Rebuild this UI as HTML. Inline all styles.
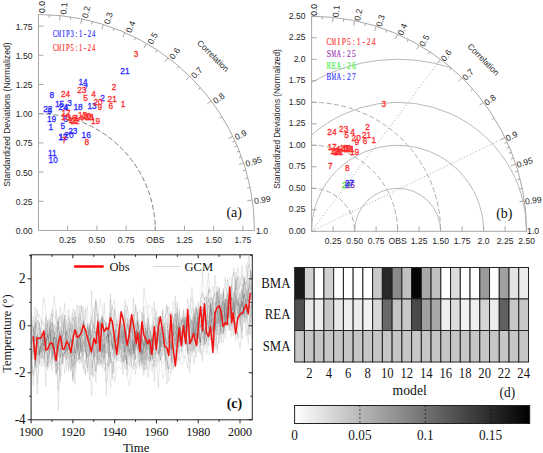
<!DOCTYPE html><html><head><meta charset="utf-8"><style>html,body{margin:0;padding:0;background:#fff;}svg{display:block}</style></head><body><svg width="543" height="453" viewBox="0 0 543 453" font-family="'Liberation Sans', sans-serif">
<rect width="543" height="453" fill="#fff"/>
<g>
<path d="M38.5 113.7 A116.8 116.8 0 0 1 155.3 230.5" fill="none" stroke="#808080" stroke-width="1" stroke-dasharray="5,2.5"/>
<line x1="38.5" y1="230.5" x2="38.5" y2="14.5" stroke="#a8a8a8" stroke-width="1"/>
<line x1="38.5" y1="230.5" x2="254.5" y2="230.5" stroke="#a8a8a8" stroke-width="1"/>
<path d="M38.5 14.5 A216 216 0 0 1 254.5 230.5" fill="none" stroke="#a8a8a8" stroke-width="1"/>
<line x1="38.5" y1="230.5" x2="43.5" y2="230.5" stroke="#a8a8a8" stroke-width="1"/>
<text x="32.5" y="233.9" text-anchor="end" font-size="8.6" fill="#262626">0.00</text>
<line x1="38.5" y1="201.3" x2="43.5" y2="201.3" stroke="#a8a8a8" stroke-width="1"/>
<text x="32.5" y="204.7" text-anchor="end" font-size="8.6" fill="#262626">0.25</text>
<line x1="38.5" y1="172.1" x2="43.5" y2="172.1" stroke="#a8a8a8" stroke-width="1"/>
<text x="32.5" y="175.5" text-anchor="end" font-size="8.6" fill="#262626">0.50</text>
<line x1="38.5" y1="142.9" x2="43.5" y2="142.9" stroke="#a8a8a8" stroke-width="1"/>
<text x="32.5" y="146.3" text-anchor="end" font-size="8.6" fill="#262626">0.75</text>
<line x1="38.5" y1="113.7" x2="43.5" y2="113.7" stroke="#a8a8a8" stroke-width="1"/>
<text x="32.5" y="117.1" text-anchor="end" font-size="8.6" fill="#262626">1.00</text>
<line x1="38.5" y1="84.5" x2="43.5" y2="84.5" stroke="#a8a8a8" stroke-width="1"/>
<text x="32.5" y="87.9" text-anchor="end" font-size="8.6" fill="#262626">1.25</text>
<line x1="38.5" y1="55.3" x2="43.5" y2="55.3" stroke="#a8a8a8" stroke-width="1"/>
<text x="32.5" y="58.7" text-anchor="end" font-size="8.6" fill="#262626">1.50</text>
<line x1="38.5" y1="26.1" x2="43.5" y2="26.1" stroke="#a8a8a8" stroke-width="1"/>
<text x="32.5" y="29.5" text-anchor="end" font-size="8.6" fill="#262626">1.75</text>
<line x1="67.7" y1="230.5" x2="67.7" y2="225.5" stroke="#a8a8a8" stroke-width="1"/>
<text x="67.7" y="242.9" text-anchor="middle" font-size="8.6" fill="#262626">0.25</text>
<line x1="96.9" y1="230.5" x2="96.9" y2="225.5" stroke="#a8a8a8" stroke-width="1"/>
<text x="96.9" y="242.9" text-anchor="middle" font-size="8.6" fill="#262626">0.50</text>
<line x1="126.1" y1="230.5" x2="126.1" y2="225.5" stroke="#a8a8a8" stroke-width="1"/>
<text x="126.1" y="242.9" text-anchor="middle" font-size="8.6" fill="#262626">0.75</text>
<line x1="155.3" y1="230.5" x2="155.3" y2="225.5" stroke="#a8a8a8" stroke-width="1"/>
<text x="155.3" y="242.9" text-anchor="middle" font-size="8.6" fill="#262626">OBS</text>
<line x1="184.5" y1="230.5" x2="184.5" y2="225.5" stroke="#a8a8a8" stroke-width="1"/>
<text x="184.5" y="242.9" text-anchor="middle" font-size="8.6" fill="#262626">1.25</text>
<line x1="213.7" y1="230.5" x2="213.7" y2="225.5" stroke="#a8a8a8" stroke-width="1"/>
<text x="213.7" y="242.9" text-anchor="middle" font-size="8.6" fill="#262626">1.50</text>
<line x1="242.9" y1="230.5" x2="242.9" y2="225.5" stroke="#a8a8a8" stroke-width="1"/>
<text x="242.9" y="242.9" text-anchor="middle" font-size="8.6" fill="#262626">1.75</text>
<line x1="38.5" y1="14.5" x2="38.5" y2="19.5" stroke="#a8a8a8" stroke-width="1"/>
<line x1="60.1" y1="15.58" x2="59.6" y2="20.56" stroke="#a8a8a8" stroke-width="1"/>
<line x1="81.7" y1="18.86" x2="80.7" y2="23.76" stroke="#a8a8a8" stroke-width="1"/>
<line x1="103.3" y1="24.45" x2="101.8" y2="29.22" stroke="#a8a8a8" stroke-width="1"/>
<line x1="124.9" y1="32.53" x2="122.9" y2="37.12" stroke="#a8a8a8" stroke-width="1"/>
<line x1="146.5" y1="43.44" x2="144" y2="47.77" stroke="#a8a8a8" stroke-width="1"/>
<line x1="168.1" y1="57.7" x2="165.1" y2="61.7" stroke="#a8a8a8" stroke-width="1"/>
<line x1="189.7" y1="76.25" x2="186.2" y2="79.82" stroke="#a8a8a8" stroke-width="1"/>
<line x1="211.3" y1="100.9" x2="207.3" y2="103.9" stroke="#a8a8a8" stroke-width="1"/>
<line x1="232.9" y1="136.35" x2="228.4" y2="138.53" stroke="#a8a8a8" stroke-width="1"/>
<line x1="243.7" y1="163.05" x2="238.95" y2="164.62" stroke="#a8a8a8" stroke-width="1"/>
<line x1="252.34" y1="200.03" x2="247.39" y2="200.73" stroke="#a8a8a8" stroke-width="1"/>
<line x1="49.3" y1="14.77" x2="49.15" y2="17.77" stroke="#a8a8a8" stroke-width="1"/>
<line x1="70.9" y1="16.94" x2="70.45" y2="19.91" stroke="#a8a8a8" stroke-width="1"/>
<line x1="92.5" y1="21.36" x2="91.75" y2="24.26" stroke="#a8a8a8" stroke-width="1"/>
<line x1="114.1" y1="28.16" x2="113.05" y2="30.97" stroke="#a8a8a8" stroke-width="1"/>
<line x1="135.7" y1="37.61" x2="134.35" y2="40.28" stroke="#a8a8a8" stroke-width="1"/>
<line x1="157.3" y1="50.1" x2="155.65" y2="52.61" stroke="#a8a8a8" stroke-width="1"/>
<line x1="178.9" y1="66.35" x2="176.95" y2="68.63" stroke="#a8a8a8" stroke-width="1"/>
<line x1="200.5" y1="87.63" x2="198.25" y2="89.61" stroke="#a8a8a8" stroke-width="1"/>
<line x1="222.1" y1="116.71" x2="219.55" y2="118.3" stroke="#a8a8a8" stroke-width="1"/>
<line x1="235.06" y1="140.94" x2="232.33" y2="142.19" stroke="#a8a8a8" stroke-width="1"/>
<line x1="237.22" y1="145.85" x2="234.46" y2="147.02" stroke="#a8a8a8" stroke-width="1"/>
<line x1="239.38" y1="151.11" x2="236.59" y2="152.21" stroke="#a8a8a8" stroke-width="1"/>
<line x1="241.54" y1="156.81" x2="238.72" y2="157.83" stroke="#a8a8a8" stroke-width="1"/>
<line x1="245.86" y1="170.02" x2="242.98" y2="170.86" stroke="#a8a8a8" stroke-width="1"/>
<line x1="248.02" y1="177.99" x2="245.11" y2="178.72" stroke="#a8a8a8" stroke-width="1"/>
<line x1="250.18" y1="187.52" x2="247.24" y2="188.11" stroke="#a8a8a8" stroke-width="1"/>
<text x="0" y="6" font-size="8.6" fill="#262626" transform="translate(38.5,13) rotate(-90)">0.0</text>
<text x="0" y="5.99" font-size="8.6" fill="#262626" transform="translate(60.25,14.09) rotate(-84.26)">0.1</text>
<text x="0" y="5.97" font-size="8.6" fill="#262626" transform="translate(82,17.39) rotate(-78.46)">0.2</text>
<text x="0" y="5.93" font-size="8.6" fill="#262626" transform="translate(103.75,23.02) rotate(-72.54)">0.3</text>
<text x="0" y="5.88" font-size="8.6" fill="#262626" transform="translate(125.5,31.16) rotate(-66.42)">0.4</text>
<text x="0" y="5.81" font-size="8.6" fill="#262626" transform="translate(147.25,42.14) rotate(-60)">0.5</text>
<text x="0" y="5.7" font-size="8.6" fill="#262626" transform="translate(169,56.5) rotate(-53.13)">0.6</text>
<text x="0" y="5.57" font-size="8.6" fill="#262626" transform="translate(190.75,75.17) rotate(-45.57)">0.7</text>
<text x="0" y="5.37" font-size="8.6" fill="#262626" transform="translate(212.5,100) rotate(-36.87)">0.8</text>
<text x="0" y="5.05" font-size="8.6" fill="#262626" transform="translate(234.25,135.69) rotate(-25.84)">0.9</text>
<text x="0" y="4.76" font-size="8.6" fill="#262626" transform="translate(245.12,162.59) rotate(-18.19)">0.95</text>
<text x="0" y="4.25" font-size="8.6" fill="#262626" transform="translate(253.82,199.82) rotate(-8.11)">0.99</text>
<text x="0" y="3.2" font-size="8.6" fill="#262626" transform="translate(256,230.5) rotate(-0)">1.0</text>
<text x="0" y="0" text-anchor="middle" font-size="8.56" fill="#262626" transform="translate(10,114.6) rotate(-90)" textLength="144.2" lengthAdjust="spacingAndGlyphs">Standardized Deviations (Normalized)</text>
<text x="0" y="2.9" text-anchor="middle" font-size="8.4" fill="#262626" transform="translate(213.16,55.84) rotate(45)">Correlation</text>
</g>
<g>
<path d="M311.6 188.3 A43 43 0 0 1 354.6 231.3" fill="none" stroke="#a4a4a4" stroke-width="0.9" stroke-dasharray="5,2.5"/>
<path d="M311.6 145.3 A86 86 0 0 1 397.6 231.3" fill="none" stroke="#a4a4a4" stroke-width="0.9" stroke-dasharray="5,2.5"/>
<path d="M311.6 102.3 A129 129 0 0 1 440.6 231.3" fill="none" stroke="#a4a4a4" stroke-width="0.9" stroke-dasharray="5,2.5"/>
<path d="M354.6 231.3 A43 43 0 0 1 440.6 231.3" fill="none" stroke="#bababa" stroke-width="1"/>
<path d="M311.6 231.3 A86 86 0 0 1 483.6 231.3" fill="none" stroke="#bababa" stroke-width="1"/>
<path d="M311.6 135.15 A129 129 0 0 1 526.6 231.3" fill="none" stroke="#bababa" stroke-width="1"/>
<path d="M311.6 82.34 A172 172 0 0 1 451.35 67.91" fill="none" stroke="#bababa" stroke-width="1"/>
<line x1="311.6" y1="231.3" x2="440.6" y2="59.3" stroke="#a0a0a0" stroke-width="0.8" stroke-dasharray="1.2,2"/>
<line x1="311.6" y1="231.3" x2="505.1" y2="137.58" stroke="#a0a0a0" stroke-width="0.8" stroke-dasharray="1.2,2"/>
<line x1="311.6" y1="231.3" x2="311.6" y2="16.3" stroke="#a8a8a8" stroke-width="1"/>
<line x1="311.6" y1="231.3" x2="526.6" y2="231.3" stroke="#a8a8a8" stroke-width="1"/>
<path d="M311.6 16.3 A215 215 0 0 1 526.6 231.3" fill="none" stroke="#a8a8a8" stroke-width="1"/>
<line x1="311.6" y1="231.3" x2="316.6" y2="231.3" stroke="#a8a8a8" stroke-width="1"/>
<text x="305.6" y="233.9" text-anchor="end" font-size="8.6" fill="#262626">0.00</text>
<line x1="311.6" y1="209.8" x2="316.6" y2="209.8" stroke="#a8a8a8" stroke-width="1"/>
<text x="305.6" y="212.4" text-anchor="end" font-size="8.6" fill="#262626">0.25</text>
<line x1="311.6" y1="188.3" x2="316.6" y2="188.3" stroke="#a8a8a8" stroke-width="1"/>
<text x="305.6" y="190.9" text-anchor="end" font-size="8.6" fill="#262626">0.50</text>
<line x1="311.6" y1="166.8" x2="316.6" y2="166.8" stroke="#a8a8a8" stroke-width="1"/>
<text x="305.6" y="169.4" text-anchor="end" font-size="8.6" fill="#262626">0.75</text>
<line x1="311.6" y1="145.3" x2="316.6" y2="145.3" stroke="#a8a8a8" stroke-width="1"/>
<text x="305.6" y="147.9" text-anchor="end" font-size="8.6" fill="#262626">1.00</text>
<line x1="311.6" y1="123.8" x2="316.6" y2="123.8" stroke="#a8a8a8" stroke-width="1"/>
<text x="305.6" y="126.4" text-anchor="end" font-size="8.6" fill="#262626">1.25</text>
<line x1="311.6" y1="102.3" x2="316.6" y2="102.3" stroke="#a8a8a8" stroke-width="1"/>
<text x="305.6" y="104.9" text-anchor="end" font-size="8.6" fill="#262626">1.50</text>
<line x1="311.6" y1="80.8" x2="316.6" y2="80.8" stroke="#a8a8a8" stroke-width="1"/>
<text x="305.6" y="83.4" text-anchor="end" font-size="8.6" fill="#262626">1.75</text>
<line x1="311.6" y1="59.3" x2="316.6" y2="59.3" stroke="#a8a8a8" stroke-width="1"/>
<text x="305.6" y="61.9" text-anchor="end" font-size="8.6" fill="#262626">2.0</text>
<line x1="311.6" y1="37.8" x2="316.6" y2="37.8" stroke="#a8a8a8" stroke-width="1"/>
<text x="305.6" y="40.4" text-anchor="end" font-size="8.6" fill="#262626">2.25</text>
<line x1="311.6" y1="16.3" x2="316.6" y2="16.3" stroke="#a8a8a8" stroke-width="1"/>
<text x="305.6" y="18.9" text-anchor="end" font-size="8.6" fill="#262626">2.50</text>
<line x1="333.1" y1="231.3" x2="333.1" y2="226.3" stroke="#a8a8a8" stroke-width="1"/>
<text x="333.1" y="243.7" text-anchor="middle" font-size="8.6" fill="#262626">0.25</text>
<line x1="354.6" y1="231.3" x2="354.6" y2="226.3" stroke="#a8a8a8" stroke-width="1"/>
<text x="354.6" y="243.7" text-anchor="middle" font-size="8.6" fill="#262626">0.50</text>
<line x1="376.1" y1="231.3" x2="376.1" y2="226.3" stroke="#a8a8a8" stroke-width="1"/>
<text x="376.1" y="243.7" text-anchor="middle" font-size="8.6" fill="#262626">0.75</text>
<line x1="397.6" y1="231.3" x2="397.6" y2="226.3" stroke="#a8a8a8" stroke-width="1"/>
<text x="397.6" y="243.7" text-anchor="middle" font-size="8.6" fill="#262626">OBS</text>
<line x1="419.1" y1="231.3" x2="419.1" y2="226.3" stroke="#a8a8a8" stroke-width="1"/>
<text x="419.1" y="243.7" text-anchor="middle" font-size="8.6" fill="#262626">1.25</text>
<line x1="440.6" y1="231.3" x2="440.6" y2="226.3" stroke="#a8a8a8" stroke-width="1"/>
<text x="440.6" y="243.7" text-anchor="middle" font-size="8.6" fill="#262626">1.50</text>
<line x1="462.1" y1="231.3" x2="462.1" y2="226.3" stroke="#a8a8a8" stroke-width="1"/>
<text x="462.1" y="243.7" text-anchor="middle" font-size="8.6" fill="#262626">1.75</text>
<line x1="483.6" y1="231.3" x2="483.6" y2="226.3" stroke="#a8a8a8" stroke-width="1"/>
<text x="483.6" y="243.7" text-anchor="middle" font-size="8.6" fill="#262626">2.0</text>
<line x1="505.1" y1="231.3" x2="505.1" y2="226.3" stroke="#a8a8a8" stroke-width="1"/>
<text x="505.1" y="243.7" text-anchor="middle" font-size="8.6" fill="#262626">2.25</text>
<line x1="526.6" y1="231.3" x2="526.6" y2="226.3" stroke="#a8a8a8" stroke-width="1"/>
<text x="526.6" y="243.7" text-anchor="middle" font-size="8.6" fill="#262626">2.50</text>
<line x1="311.6" y1="16.3" x2="311.6" y2="21.3" stroke="#a8a8a8" stroke-width="1"/>
<line x1="333.1" y1="17.38" x2="332.6" y2="22.35" stroke="#a8a8a8" stroke-width="1"/>
<line x1="354.6" y1="20.64" x2="353.6" y2="25.54" stroke="#a8a8a8" stroke-width="1"/>
<line x1="376.1" y1="26.2" x2="374.6" y2="30.97" stroke="#a8a8a8" stroke-width="1"/>
<line x1="397.6" y1="34.25" x2="395.6" y2="38.83" stroke="#a8a8a8" stroke-width="1"/>
<line x1="419.1" y1="45.1" x2="416.6" y2="49.43" stroke="#a8a8a8" stroke-width="1"/>
<line x1="440.6" y1="59.3" x2="437.6" y2="63.3" stroke="#a8a8a8" stroke-width="1"/>
<line x1="462.1" y1="77.76" x2="458.6" y2="81.33" stroke="#a8a8a8" stroke-width="1"/>
<line x1="483.6" y1="102.3" x2="479.6" y2="105.3" stroke="#a8a8a8" stroke-width="1"/>
<line x1="505.1" y1="137.58" x2="500.6" y2="139.76" stroke="#a8a8a8" stroke-width="1"/>
<line x1="515.85" y1="164.17" x2="511.1" y2="165.73" stroke="#a8a8a8" stroke-width="1"/>
<line x1="524.45" y1="200.97" x2="519.5" y2="201.68" stroke="#a8a8a8" stroke-width="1"/>
<line x1="322.35" y1="16.57" x2="322.2" y2="19.57" stroke="#a8a8a8" stroke-width="1"/>
<line x1="343.85" y1="18.73" x2="343.4" y2="21.7" stroke="#a8a8a8" stroke-width="1"/>
<line x1="365.35" y1="23.13" x2="364.6" y2="26.03" stroke="#a8a8a8" stroke-width="1"/>
<line x1="386.85" y1="29.9" x2="385.8" y2="32.71" stroke="#a8a8a8" stroke-width="1"/>
<line x1="408.35" y1="39.3" x2="407" y2="41.98" stroke="#a8a8a8" stroke-width="1"/>
<line x1="429.85" y1="51.74" x2="428.2" y2="54.25" stroke="#a8a8a8" stroke-width="1"/>
<line x1="451.35" y1="67.91" x2="449.4" y2="70.19" stroke="#a8a8a8" stroke-width="1"/>
<line x1="472.85" y1="89.09" x2="470.6" y2="91.08" stroke="#a8a8a8" stroke-width="1"/>
<line x1="494.35" y1="118.04" x2="491.8" y2="119.62" stroke="#a8a8a8" stroke-width="1"/>
<line x1="507.25" y1="142.16" x2="504.52" y2="143.4" stroke="#a8a8a8" stroke-width="1"/>
<line x1="509.4" y1="147.04" x2="506.64" y2="148.21" stroke="#a8a8a8" stroke-width="1"/>
<line x1="511.55" y1="152.27" x2="508.76" y2="153.38" stroke="#a8a8a8" stroke-width="1"/>
<line x1="513.7" y1="157.95" x2="510.88" y2="158.97" stroke="#a8a8a8" stroke-width="1"/>
<line x1="518" y1="171.1" x2="515.12" y2="171.94" stroke="#a8a8a8" stroke-width="1"/>
<line x1="520.15" y1="179.03" x2="517.24" y2="179.76" stroke="#a8a8a8" stroke-width="1"/>
<line x1="522.3" y1="188.52" x2="519.36" y2="189.11" stroke="#a8a8a8" stroke-width="1"/>
<text x="0" y="5.5" font-size="8.6" fill="#262626" transform="translate(311.6,15.8) rotate(-90)">0.0</text>
<text x="0" y="5.49" font-size="8.6" fill="#262626" transform="translate(333.15,16.88) rotate(-84.26)">0.1</text>
<text x="0" y="5.47" font-size="8.6" fill="#262626" transform="translate(354.7,20.15) rotate(-78.46)">0.2</text>
<text x="0" y="5.43" font-size="8.6" fill="#262626" transform="translate(376.25,25.73) rotate(-72.54)">0.3</text>
<text x="0" y="5.38" font-size="8.6" fill="#262626" transform="translate(397.8,33.79) rotate(-66.42)">0.4</text>
<text x="0" y="5.31" font-size="8.6" fill="#262626" transform="translate(419.35,44.67) rotate(-60)">0.5</text>
<text x="0" y="5.2" font-size="8.6" fill="#262626" transform="translate(440.9,58.9) rotate(-53.13)">0.6</text>
<text x="0" y="5.07" font-size="8.6" fill="#262626" transform="translate(462.45,77.4) rotate(-45.57)">0.7</text>
<text x="0" y="4.87" font-size="8.6" fill="#262626" transform="translate(484,102) rotate(-36.87)">0.8</text>
<text x="0" y="4.55" font-size="8.6" fill="#262626" transform="translate(505.55,137.37) rotate(-25.84)">0.9</text>
<text x="0" y="4.26" font-size="8.6" fill="#262626" transform="translate(516.33,164.01) rotate(-18.19)">0.95</text>
<text x="0" y="3.75" font-size="8.6" fill="#262626" transform="translate(524.95,200.9) rotate(-8.11)">0.99</text>
<text x="0" y="2.7" font-size="8.6" fill="#262626" transform="translate(527.1,231.3) rotate(-0)">1.0</text>
<text x="0" y="0" text-anchor="middle" font-size="8.29" fill="#262626" transform="translate(279.6,119) rotate(-90)" textLength="139.6" lengthAdjust="spacingAndGlyphs">Standardized Deviations (Normalized)</text>
<text x="0" y="2.9" text-anchor="middle" font-size="8.4" fill="#262626" transform="translate(483.43,59.47) rotate(45)">Correlation</text>
</g>
<text x="0" y="0" text-anchor="middle" font-size="9.2" fill="#2a2aff" stroke="#2a2aff" stroke-width="0.3" transform="translate(50.9,129.8) scale(0.9,1)">1</text>
<text x="0" y="0" text-anchor="middle" font-size="9.2" fill="#2a2aff" stroke="#2a2aff" stroke-width="0.3" transform="translate(102.5,101) scale(0.9,1)">2</text>
<text x="0" y="0" text-anchor="middle" font-size="9.2" fill="#2a2aff" stroke="#2a2aff" stroke-width="0.3" transform="translate(69.5,106) scale(0.9,1)">3</text>
<text x="0" y="0" text-anchor="middle" font-size="9.2" fill="#2a2aff" stroke="#2a2aff" stroke-width="0.3" transform="translate(66,110.6) scale(0.9,1)">4</text>
<text x="0" y="0" text-anchor="middle" font-size="9.2" fill="#2a2aff" stroke="#2a2aff" stroke-width="0.3" transform="translate(62.7,128.8) scale(0.9,1)">5</text>
<text x="0" y="0" text-anchor="middle" font-size="9.2" fill="#2a2aff" stroke="#2a2aff" stroke-width="0.3" transform="translate(65.5,121.5) scale(0.9,1)">6</text>
<text x="0" y="0" text-anchor="middle" font-size="9.2" fill="#2a2aff" stroke="#2a2aff" stroke-width="0.3" transform="translate(85.5,90.9) scale(0.9,1)">7</text>
<text x="0" y="0" text-anchor="middle" font-size="9.2" fill="#2a2aff" stroke="#2a2aff" stroke-width="0.3" transform="translate(51.8,98.3) scale(0.9,1)">8</text>
<text x="0" y="0" text-anchor="middle" font-size="9.2" fill="#2a2aff" stroke="#2a2aff" stroke-width="0.3" transform="translate(49.5,114.3) scale(0.9,1)">9</text>
<text x="0" y="0" text-anchor="middle" font-size="9.2" fill="#2a2aff" stroke="#2a2aff" stroke-width="0.3" transform="translate(53.2,162.8) scale(0.9,1)">10</text>
<text x="0" y="0" text-anchor="middle" font-size="9.2" fill="#2a2aff" stroke="#2a2aff" stroke-width="0.3" transform="translate(52.4,156.4) scale(0.9,1)">11</text>
<text x="0" y="0" text-anchor="middle" font-size="9.2" fill="#2a2aff" stroke="#2a2aff" stroke-width="0.3" transform="translate(63,139.6) scale(0.9,1)">12</text>
<text x="0" y="0" text-anchor="middle" font-size="9.2" fill="#2a2aff" stroke="#2a2aff" stroke-width="0.3" transform="translate(92,109.3) scale(0.9,1)">13</text>
<text x="0" y="0" text-anchor="middle" font-size="9.2" fill="#2a2aff" stroke="#2a2aff" stroke-width="0.3" transform="translate(83.1,84.5) scale(0.9,1)">14</text>
<text x="0" y="0" text-anchor="middle" font-size="9.2" fill="#2a2aff" stroke="#2a2aff" stroke-width="0.3" transform="translate(59.5,106.6) scale(0.9,1)">15</text>
<text x="0" y="0" text-anchor="middle" font-size="9.2" fill="#2a2aff" stroke="#2a2aff" stroke-width="0.3" transform="translate(86.2,137.8) scale(0.9,1)">16</text>
<text x="0" y="0" text-anchor="middle" font-size="9.2" fill="#2a2aff" stroke="#2a2aff" stroke-width="0.3" transform="translate(63,139.6) scale(0.9,1)">17</text>
<text x="0" y="0" text-anchor="middle" font-size="9.2" fill="#2a2aff" stroke="#2a2aff" stroke-width="0.3" transform="translate(78,110.1) scale(0.9,1)">18</text>
<text x="0" y="0" text-anchor="middle" font-size="9.2" fill="#2a2aff" stroke="#2a2aff" stroke-width="0.3" transform="translate(51.6,121.7) scale(0.9,1)">19</text>
<text x="0" y="0" text-anchor="middle" font-size="9.2" fill="#2a2aff" stroke="#2a2aff" stroke-width="0.3" transform="translate(68.9,138.1) scale(0.9,1)">20</text>
<text x="0" y="0" text-anchor="middle" font-size="9.2" fill="#2a2aff" stroke="#2a2aff" stroke-width="0.3" transform="translate(124.9,74.3) scale(0.9,1)">21</text>
<text x="0" y="0" text-anchor="middle" font-size="9.2" fill="#2a2aff" stroke="#2a2aff" stroke-width="0.3" transform="translate(47.8,111.9) scale(0.9,1)">22</text>
<text x="0" y="0" text-anchor="middle" font-size="9.2" fill="#2a2aff" stroke="#2a2aff" stroke-width="0.3" transform="translate(72.8,133.8) scale(0.9,1)">23</text>
<text x="0" y="0" text-anchor="middle" font-size="9.2" fill="#2a2aff" stroke="#2a2aff" stroke-width="0.3" transform="translate(63.2,110.4) scale(0.9,1)">24</text>
<text x="0" y="0" text-anchor="middle" font-size="9.2" fill="#ff2a2a" stroke="#ff2a2a" stroke-width="0.3" transform="translate(123.1,107.1) scale(0.9,1)">1</text>
<text x="0" y="0" text-anchor="middle" font-size="9.2" fill="#ff2a2a" stroke="#ff2a2a" stroke-width="0.3" transform="translate(114.1,90) scale(0.9,1)">2</text>
<text x="0" y="0" text-anchor="middle" font-size="9.2" fill="#ff2a2a" stroke="#ff2a2a" stroke-width="0.3" transform="translate(136.1,57.4) scale(0.9,1)">3</text>
<text x="0" y="0" text-anchor="middle" font-size="9.2" fill="#ff2a2a" stroke="#ff2a2a" stroke-width="0.3" transform="translate(93.6,97) scale(0.9,1)">4</text>
<text x="0" y="0" text-anchor="middle" font-size="9.2" fill="#ff2a2a" stroke="#ff2a2a" stroke-width="0.3" transform="translate(85.6,101.4) scale(0.9,1)">5</text>
<text x="0" y="0" text-anchor="middle" font-size="9.2" fill="#ff2a2a" stroke="#ff2a2a" stroke-width="0.3" transform="translate(110.7,109.3) scale(0.9,1)">6</text>
<text x="0" y="0" text-anchor="middle" font-size="9.2" fill="#ff2a2a" stroke="#ff2a2a" stroke-width="0.3" transform="translate(64.4,143) scale(0.9,1)">7</text>
<text x="0" y="0" text-anchor="middle" font-size="9.2" fill="#ff2a2a" stroke="#ff2a2a" stroke-width="0.3" transform="translate(86.7,145.3) scale(0.9,1)">8</text>
<text x="0" y="0" text-anchor="middle" font-size="9.2" fill="#ff2a2a" stroke="#ff2a2a" stroke-width="0.3" transform="translate(99.8,110.4) scale(0.9,1)">9</text>
<text x="0" y="0" text-anchor="middle" font-size="9.2" fill="#ff2a2a" stroke="#ff2a2a" stroke-width="0.3" transform="translate(86.5,118.5) scale(0.9,1)">10</text>
<text x="0" y="0" text-anchor="middle" font-size="9.2" fill="#ff2a2a" stroke="#ff2a2a" stroke-width="0.3" transform="translate(90,119.8) scale(0.9,1)">11</text>
<text x="0" y="0" text-anchor="middle" font-size="9.2" fill="#ff2a2a" stroke="#ff2a2a" stroke-width="0.3" transform="translate(73,123.3) scale(0.9,1)">12</text>
<text x="0" y="0" text-anchor="middle" font-size="9.2" fill="#ff2a2a" stroke="#ff2a2a" stroke-width="0.3" transform="translate(82.5,118.1) scale(0.9,1)">13</text>
<text x="0" y="0" text-anchor="middle" font-size="9.2" fill="#ff2a2a" stroke="#ff2a2a" stroke-width="0.3" transform="translate(79,120.8) scale(0.9,1)">14</text>
<text x="0" y="0" text-anchor="middle" font-size="9.2" fill="#ff2a2a" stroke="#ff2a2a" stroke-width="0.3" transform="translate(65.5,119.8) scale(0.9,1)">15</text>
<text x="0" y="0" text-anchor="middle" font-size="9.2" fill="#ff2a2a" stroke="#ff2a2a" stroke-width="0.3" transform="translate(72,121.3) scale(0.9,1)">16</text>
<text x="0" y="0" text-anchor="middle" font-size="9.2" fill="#ff2a2a" stroke="#ff2a2a" stroke-width="0.3" transform="translate(66,116.3) scale(0.9,1)">17</text>
<text x="0" y="0" text-anchor="middle" font-size="9.2" fill="#ff2a2a" stroke="#ff2a2a" stroke-width="0.3" transform="translate(89,120.3) scale(0.9,1)">18</text>
<text x="0" y="0" text-anchor="middle" font-size="9.2" fill="#ff2a2a" stroke="#ff2a2a" stroke-width="0.3" transform="translate(95.5,123.8) scale(0.9,1)">19</text>
<text x="0" y="0" text-anchor="middle" font-size="9.2" fill="#ff2a2a" stroke="#ff2a2a" stroke-width="0.3" transform="translate(98,104.7) scale(0.9,1)">20</text>
<text x="0" y="0" text-anchor="middle" font-size="9.2" fill="#ff2a2a" stroke="#ff2a2a" stroke-width="0.3" transform="translate(112.2,102) scale(0.9,1)">21</text>
<text x="0" y="0" text-anchor="middle" font-size="9.2" fill="#ff2a2a" stroke="#ff2a2a" stroke-width="0.3" transform="translate(75,124.3) scale(0.9,1)">22</text>
<text x="0" y="0" text-anchor="middle" font-size="9.2" fill="#ff2a2a" stroke="#ff2a2a" stroke-width="0.3" transform="translate(81.8,92.8) scale(0.9,1)">23</text>
<text x="0" y="0" text-anchor="middle" font-size="9.2" fill="#ff2a2a" stroke="#ff2a2a" stroke-width="0.3" transform="translate(65.6,97.4) scale(0.9,1)">24</text>
<text x="0" y="0" text-anchor="middle" font-size="9.2" fill="#ff2a2a" stroke="#ff2a2a" stroke-width="0.3" transform="translate(373.9,142.6) scale(0.9,1)">1</text>
<text x="0" y="0" text-anchor="middle" font-size="9.2" fill="#ff2a2a" stroke="#ff2a2a" stroke-width="0.3" transform="translate(367.5,130.1) scale(0.9,1)">2</text>
<text x="0" y="0" text-anchor="middle" font-size="9.2" fill="#ff2a2a" stroke="#ff2a2a" stroke-width="0.3" transform="translate(383.7,106.6) scale(0.9,1)">3</text>
<text x="0" y="0" text-anchor="middle" font-size="9.2" fill="#ff2a2a" stroke="#ff2a2a" stroke-width="0.3" transform="translate(352.5,135.3) scale(0.9,1)">4</text>
<text x="0" y="0" text-anchor="middle" font-size="9.2" fill="#ff2a2a" stroke="#ff2a2a" stroke-width="0.3" transform="translate(346.6,138.2) scale(0.9,1)">5</text>
<text x="0" y="0" text-anchor="middle" font-size="9.2" fill="#ff2a2a" stroke="#ff2a2a" stroke-width="0.3" transform="translate(365,144.1) scale(0.9,1)">6</text>
<text x="0" y="0" text-anchor="middle" font-size="9.2" fill="#ff2a2a" stroke="#ff2a2a" stroke-width="0.3" transform="translate(330.4,169.2) scale(0.9,1)">7</text>
<text x="0" y="0" text-anchor="middle" font-size="9.2" fill="#ff2a2a" stroke="#ff2a2a" stroke-width="0.3" transform="translate(347.3,171) scale(0.9,1)">8</text>
<text x="0" y="0" text-anchor="middle" font-size="9.2" fill="#ff2a2a" stroke="#ff2a2a" stroke-width="0.3" transform="translate(356.9,144.8) scale(0.9,1)">9</text>
<text x="0" y="0" text-anchor="middle" font-size="9.2" fill="#ff2a2a" stroke="#ff2a2a" stroke-width="0.3" transform="translate(346.8,150.9) scale(0.9,1)">10</text>
<text x="0" y="0" text-anchor="middle" font-size="9.2" fill="#ff2a2a" stroke="#ff2a2a" stroke-width="0.3" transform="translate(350,152.1) scale(0.9,1)">11</text>
<text x="0" y="0" text-anchor="middle" font-size="9.2" fill="#ff2a2a" stroke="#ff2a2a" stroke-width="0.3" transform="translate(334.5,153.8) scale(0.9,1)">12</text>
<text x="0" y="0" text-anchor="middle" font-size="9.2" fill="#ff2a2a" stroke="#ff2a2a" stroke-width="0.3" transform="translate(344,151.3) scale(0.9,1)">13</text>
<text x="0" y="0" text-anchor="middle" font-size="9.2" fill="#ff2a2a" stroke="#ff2a2a" stroke-width="0.3" transform="translate(341,151.9) scale(0.9,1)">14</text>
<text x="0" y="0" text-anchor="middle" font-size="9.2" fill="#ff2a2a" stroke="#ff2a2a" stroke-width="0.3" transform="translate(336,153.8) scale(0.9,1)">15</text>
<text x="0" y="0" text-anchor="middle" font-size="9.2" fill="#ff2a2a" stroke="#ff2a2a" stroke-width="0.3" transform="translate(337.5,154.8) scale(0.9,1)">16</text>
<text x="0" y="0" text-anchor="middle" font-size="9.2" fill="#ff2a2a" stroke="#ff2a2a" stroke-width="0.3" transform="translate(332,149.6) scale(0.9,1)">17</text>
<text x="0" y="0" text-anchor="middle" font-size="9.2" fill="#ff2a2a" stroke="#ff2a2a" stroke-width="0.3" transform="translate(348.5,151.6) scale(0.9,1)">18</text>
<text x="0" y="0" text-anchor="middle" font-size="9.2" fill="#ff2a2a" stroke="#ff2a2a" stroke-width="0.3" transform="translate(354.6,155.1) scale(0.9,1)">19</text>
<text x="0" y="0" text-anchor="middle" font-size="9.2" fill="#ff2a2a" stroke="#ff2a2a" stroke-width="0.3" transform="translate(356.2,141.2) scale(0.9,1)">20</text>
<text x="0" y="0" text-anchor="middle" font-size="9.2" fill="#ff2a2a" stroke="#ff2a2a" stroke-width="0.3" transform="translate(366.5,138.2) scale(0.9,1)">21</text>
<text x="0" y="0" text-anchor="middle" font-size="9.2" fill="#ff2a2a" stroke="#ff2a2a" stroke-width="0.3" transform="translate(338.8,155.3) scale(0.9,1)">22</text>
<text x="0" y="0" text-anchor="middle" font-size="9.2" fill="#ff2a2a" stroke="#ff2a2a" stroke-width="0.3" transform="translate(343.7,132.3) scale(0.9,1)">23</text>
<text x="0" y="0" text-anchor="middle" font-size="9.2" fill="#ff2a2a" stroke="#ff2a2a" stroke-width="0.3" transform="translate(331.9,135.3) scale(0.9,1)">24</text>
<text x="0" y="0" text-anchor="middle" font-size="9.2" fill="#33e033" stroke="#33e033" stroke-width="0.3" transform="translate(346.6,187.6) scale(0.9,1)">26</text>
<text x="0" y="0" text-anchor="middle" font-size="9.2" fill="#9a33c0" stroke="#9a33c0" stroke-width="0.3" transform="translate(350.2,187.6) scale(0.9,1)">25</text>
<text x="0" y="0" text-anchor="middle" font-size="9.2" fill="#2a2aff" stroke="#2a2aff" stroke-width="0.3" transform="translate(349.6,185.7) scale(0.9,1)">27</text>
<text x="0" y="0" font-size="8.05" fill="#2a2aff" font-family="'Liberation Serif', serif" text-anchor="middle" stroke="#2a2aff" stroke-width="0.15" transform="translate(54.86,37) scale(0.74,1.19)">C</text>
<text x="0" y="0" font-size="8.05" fill="#2a2aff" font-family="'Liberation Serif', serif" text-anchor="middle" stroke="#2a2aff" stroke-width="0.15" transform="translate(59.17,37) scale(0.55,1.19)">M</text>
<text x="0" y="0" font-size="8.05" fill="#2a2aff" font-family="'Liberation Serif', serif" text-anchor="middle" stroke="#2a2aff" stroke-width="0.15" transform="translate(63.48,37) scale(0.82,1.19)">I</text>
<text x="0" y="0" font-size="8.05" fill="#2a2aff" font-family="'Liberation Serif', serif" text-anchor="middle" stroke="#2a2aff" stroke-width="0.15" transform="translate(67.78,37) scale(0.82,1.19)">P</text>
<text x="0" y="0" font-size="8.05" fill="#2a2aff" font-family="'Liberation Serif', serif" text-anchor="middle" stroke="#2a2aff" stroke-width="0.15" transform="translate(72.09,37) scale(0.82,1.19)">3</text>
<text x="0" y="0" font-size="8.05" fill="#2a2aff" font-family="'Liberation Serif', serif" text-anchor="middle" stroke="#2a2aff" stroke-width="0.15" transform="translate(76.41,37) scale(0.82,1.19)">:</text>
<text x="0" y="0" font-size="8.05" fill="#2a2aff" font-family="'Liberation Serif', serif" text-anchor="middle" stroke="#2a2aff" stroke-width="0.15" transform="translate(80.72,37) scale(0.82,1.19)">1</text>
<text x="0" y="0" font-size="8.05" fill="#2a2aff" font-family="'Liberation Serif', serif" text-anchor="middle" stroke="#2a2aff" stroke-width="0.15" transform="translate(85.03,37) scale(0.82,1.19)">-</text>
<text x="0" y="0" font-size="8.05" fill="#2a2aff" font-family="'Liberation Serif', serif" text-anchor="middle" stroke="#2a2aff" stroke-width="0.15" transform="translate(89.34,37) scale(0.82,1.19)">2</text>
<text x="0" y="0" font-size="8.05" fill="#2a2aff" font-family="'Liberation Serif', serif" text-anchor="middle" stroke="#2a2aff" stroke-width="0.15" transform="translate(93.65,37) scale(0.82,1.19)">4</text>
<text x="0" y="0" font-size="8.05" fill="#ff2a2a" font-family="'Liberation Serif', serif" text-anchor="middle" stroke="#ff2a2a" stroke-width="0.15" transform="translate(54.86,50.6) scale(0.74,1.19)">C</text>
<text x="0" y="0" font-size="8.05" fill="#ff2a2a" font-family="'Liberation Serif', serif" text-anchor="middle" stroke="#ff2a2a" stroke-width="0.15" transform="translate(59.17,50.6) scale(0.55,1.19)">M</text>
<text x="0" y="0" font-size="8.05" fill="#ff2a2a" font-family="'Liberation Serif', serif" text-anchor="middle" stroke="#ff2a2a" stroke-width="0.15" transform="translate(63.48,50.6) scale(0.82,1.19)">I</text>
<text x="0" y="0" font-size="8.05" fill="#ff2a2a" font-family="'Liberation Serif', serif" text-anchor="middle" stroke="#ff2a2a" stroke-width="0.15" transform="translate(67.78,50.6) scale(0.82,1.19)">P</text>
<text x="0" y="0" font-size="8.05" fill="#ff2a2a" font-family="'Liberation Serif', serif" text-anchor="middle" stroke="#ff2a2a" stroke-width="0.15" transform="translate(72.09,50.6) scale(0.82,1.19)">5</text>
<text x="0" y="0" font-size="8.05" fill="#ff2a2a" font-family="'Liberation Serif', serif" text-anchor="middle" stroke="#ff2a2a" stroke-width="0.15" transform="translate(76.41,50.6) scale(0.82,1.19)">:</text>
<text x="0" y="0" font-size="8.05" fill="#ff2a2a" font-family="'Liberation Serif', serif" text-anchor="middle" stroke="#ff2a2a" stroke-width="0.15" transform="translate(80.72,50.6) scale(0.82,1.19)">1</text>
<text x="0" y="0" font-size="8.05" fill="#ff2a2a" font-family="'Liberation Serif', serif" text-anchor="middle" stroke="#ff2a2a" stroke-width="0.15" transform="translate(85.03,50.6) scale(0.82,1.19)">-</text>
<text x="0" y="0" font-size="8.05" fill="#ff2a2a" font-family="'Liberation Serif', serif" text-anchor="middle" stroke="#ff2a2a" stroke-width="0.15" transform="translate(89.34,50.6) scale(0.82,1.19)">2</text>
<text x="0" y="0" font-size="8.05" fill="#ff2a2a" font-family="'Liberation Serif', serif" text-anchor="middle" stroke="#ff2a2a" stroke-width="0.15" transform="translate(93.65,50.6) scale(0.82,1.19)">4</text>
<text x="0" y="0" font-size="9.3" fill="#ff3030" font-family="'Liberation Serif', serif" text-anchor="middle" stroke="#ff3030" stroke-width="0.15" transform="translate(328.89,45.2) scale(0.74,1.02)">C</text>
<text x="0" y="0" font-size="9.3" fill="#ff3030" font-family="'Liberation Serif', serif" text-anchor="middle" stroke="#ff3030" stroke-width="0.15" transform="translate(333.87,45.2) scale(0.55,1.02)">M</text>
<text x="0" y="0" font-size="9.3" fill="#ff3030" font-family="'Liberation Serif', serif" text-anchor="middle" stroke="#ff3030" stroke-width="0.15" transform="translate(338.85,45.2) scale(0.82,1.02)">I</text>
<text x="0" y="0" font-size="9.3" fill="#ff3030" font-family="'Liberation Serif', serif" text-anchor="middle" stroke="#ff3030" stroke-width="0.15" transform="translate(343.83,45.2) scale(0.82,1.02)">P</text>
<text x="0" y="0" font-size="9.3" fill="#ff3030" font-family="'Liberation Serif', serif" text-anchor="middle" stroke="#ff3030" stroke-width="0.15" transform="translate(348.81,45.2) scale(0.82,1.02)">5</text>
<text x="0" y="0" font-size="9.3" fill="#ff3030" font-family="'Liberation Serif', serif" text-anchor="middle" stroke="#ff3030" stroke-width="0.15" transform="translate(353.79,45.2) scale(0.82,1.02)">:</text>
<text x="0" y="0" font-size="9.3" fill="#ff3030" font-family="'Liberation Serif', serif" text-anchor="middle" stroke="#ff3030" stroke-width="0.15" transform="translate(358.77,45.2) scale(0.82,1.02)">1</text>
<text x="0" y="0" font-size="9.3" fill="#ff3030" font-family="'Liberation Serif', serif" text-anchor="middle" stroke="#ff3030" stroke-width="0.15" transform="translate(363.75,45.2) scale(0.82,1.02)">-</text>
<text x="0" y="0" font-size="9.3" fill="#ff3030" font-family="'Liberation Serif', serif" text-anchor="middle" stroke="#ff3030" stroke-width="0.15" transform="translate(368.73,45.2) scale(0.82,1.02)">2</text>
<text x="0" y="0" font-size="9.3" fill="#ff3030" font-family="'Liberation Serif', serif" text-anchor="middle" stroke="#ff3030" stroke-width="0.15" transform="translate(373.71,45.2) scale(0.82,1.02)">4</text>
<text x="0" y="0" font-size="9.3" fill="#9a30b0" font-family="'Liberation Serif', serif" text-anchor="middle" stroke="#9a30b0" stroke-width="0.15" transform="translate(328.89,56.8) scale(0.82,1.02)">S</text>
<text x="0" y="0" font-size="9.3" fill="#9a30b0" font-family="'Liberation Serif', serif" text-anchor="middle" stroke="#9a30b0" stroke-width="0.15" transform="translate(333.88,56.8) scale(0.55,1.02)">M</text>
<text x="0" y="0" font-size="9.3" fill="#9a30b0" font-family="'Liberation Serif', serif" text-anchor="middle" stroke="#9a30b0" stroke-width="0.15" transform="translate(338.86,56.8) scale(0.68,1.02)">A</text>
<text x="0" y="0" font-size="9.3" fill="#9a30b0" font-family="'Liberation Serif', serif" text-anchor="middle" stroke="#9a30b0" stroke-width="0.15" transform="translate(343.84,56.8) scale(0.82,1.02)">:</text>
<text x="0" y="0" font-size="9.3" fill="#9a30b0" font-family="'Liberation Serif', serif" text-anchor="middle" stroke="#9a30b0" stroke-width="0.15" transform="translate(348.82,56.8) scale(0.82,1.02)">2</text>
<text x="0" y="0" font-size="9.3" fill="#9a30b0" font-family="'Liberation Serif', serif" text-anchor="middle" stroke="#9a30b0" stroke-width="0.15" transform="translate(353.81,56.8) scale(0.82,1.02)">5</text>
<text x="0" y="0" font-size="9.3" fill="#40f040" font-family="'Liberation Serif', serif" text-anchor="middle" stroke="#40f040" stroke-width="0.15" transform="translate(328.89,68.5) scale(0.74,1.02)">R</text>
<text x="0" y="0" font-size="9.3" fill="#40f040" font-family="'Liberation Serif', serif" text-anchor="middle" stroke="#40f040" stroke-width="0.15" transform="translate(333.88,68.5) scale(0.81,1.02)">E</text>
<text x="0" y="0" font-size="9.3" fill="#40f040" font-family="'Liberation Serif', serif" text-anchor="middle" stroke="#40f040" stroke-width="0.15" transform="translate(338.86,68.5) scale(0.68,1.02)">A</text>
<text x="0" y="0" font-size="9.3" fill="#40f040" font-family="'Liberation Serif', serif" text-anchor="middle" stroke="#40f040" stroke-width="0.15" transform="translate(343.84,68.5) scale(0.82,1.02)">:</text>
<text x="0" y="0" font-size="9.3" fill="#40f040" font-family="'Liberation Serif', serif" text-anchor="middle" stroke="#40f040" stroke-width="0.15" transform="translate(348.82,68.5) scale(0.82,1.02)">2</text>
<text x="0" y="0" font-size="9.3" fill="#40f040" font-family="'Liberation Serif', serif" text-anchor="middle" stroke="#40f040" stroke-width="0.15" transform="translate(353.81,68.5) scale(0.82,1.02)">6</text>
<text x="0" y="0" font-size="9.3" fill="#3030ff" font-family="'Liberation Serif', serif" text-anchor="middle" stroke="#3030ff" stroke-width="0.15" transform="translate(328.89,80.2) scale(0.74,1.02)">B</text>
<text x="0" y="0" font-size="9.3" fill="#3030ff" font-family="'Liberation Serif', serif" text-anchor="middle" stroke="#3030ff" stroke-width="0.15" transform="translate(333.88,80.2) scale(0.55,1.02)">M</text>
<text x="0" y="0" font-size="9.3" fill="#3030ff" font-family="'Liberation Serif', serif" text-anchor="middle" stroke="#3030ff" stroke-width="0.15" transform="translate(338.86,80.2) scale(0.68,1.02)">A</text>
<text x="0" y="0" font-size="9.3" fill="#3030ff" font-family="'Liberation Serif', serif" text-anchor="middle" stroke="#3030ff" stroke-width="0.15" transform="translate(343.84,80.2) scale(0.82,1.02)">:</text>
<text x="0" y="0" font-size="9.3" fill="#3030ff" font-family="'Liberation Serif', serif" text-anchor="middle" stroke="#3030ff" stroke-width="0.15" transform="translate(348.82,80.2) scale(0.82,1.02)">2</text>
<text x="0" y="0" font-size="9.3" fill="#3030ff" font-family="'Liberation Serif', serif" text-anchor="middle" stroke="#3030ff" stroke-width="0.15" transform="translate(353.81,80.2) scale(0.82,1.02)">7</text>
<text x="234.2" y="217.2" text-anchor="middle" font-size="14" fill="#111" font-family="'Liberation Serif', serif">(a)</text>
<text x="504.3" y="217.6" text-anchor="middle" font-size="14" fill="#111" font-family="'Liberation Serif', serif">(b)</text>
<clipPath id="cc"><rect x="31.1" y="254.8" width="221.20000000000002" height="165.0"/></clipPath>
<g clip-path="url(#cc)" fill="none" stroke="#3a3a3a" stroke-width="0.6" stroke-opacity="0.19" stroke-linejoin="round">
<polyline points="31.1,343.56 33.19,333.53 35.28,352.27 37.37,368.45 39.46,354.69 41.55,343.59 43.63,332.08 45.72,361.81 47.81,370.32 49.9,344.29 51.99,341.05 54.08,325.31 56.17,329.14 58.26,410.33 60.35,351.86 62.44,313.41 64.52,344.08 66.61,358.73 68.7,367.38 70.79,352.16 72.88,347.65 74.97,353.43 77.06,350.89 79.15,345.53 81.24,338.28 83.33,330.78 85.41,341.39 87.5,372.22 89.59,344.82 91.68,367.86 93.77,356.04 95.86,371.43 97.95,354.48 100.04,361.25 102.13,348.95 104.22,302.4 106.3,337.94 108.39,334.27 110.48,363.87 112.57,356.68 114.66,341.49 116.75,348.33 118.84,343.52 120.93,346.08 123.02,362.35 125.1,344.3 127.19,359.17 129.28,325.08 131.37,350.04 133.46,339.5 135.55,346.5 137.64,334.86 139.73,353.85 141.82,336.05 143.91,347.41 146,330.71 148.08,335.54 150.17,343.55 152.26,358.54 154.35,340.47 156.44,340.18 158.53,323.57 160.62,347.86 162.71,340.81 164.8,339.7 166.88,342.59 168.97,344.37 171.06,344.15 173.15,354.32 175.24,361.94 177.33,354.37 179.42,337.79 181.51,319.91 183.6,322.19 185.69,320.91 187.78,323.7 189.86,324.73 191.95,331.48 194.04,324.1 196.13,307.36 198.22,332.01 200.31,342.55 202.4,307.02 204.49,321.53 206.58,314.16 208.66,312.9 210.75,340.13 212.84,295.88 214.93,293.3 217.02,314.41 219.11,310.8 221.2,317.94 223.29,333.19 225.38,325.35 227.47,315.77 229.55,302.15 231.64,303.7 233.73,312.46 235.82,295.63 237.91,320.45 240,304 242.09,294.61 244.18,311.27 246.27,335.77 248.36,328.66 250.44,310.01 252.53,300.47"/>
<polyline points="31.1,344.8 33.19,334.16 35.28,322.39 37.37,330.8 39.46,364.07 41.55,327.64 43.63,297.32 45.72,308.17 47.81,337.95 49.9,338.28 51.99,329.43 54.08,295.28 56.17,313.11 58.26,324.66 60.35,307.21 62.44,325.94 64.52,303.25 66.61,333.45 68.7,338.04 70.79,322.34 72.88,308.51 74.97,315.9 77.06,322.71 79.15,354.33 81.24,346.61 83.33,343.24 85.41,341.31 87.5,325.05 89.59,333.97 91.68,320.38 93.77,326.92 95.86,334.41 97.95,329.92 100.04,324.43 102.13,317 104.22,333.96 106.3,395.3 108.39,350.89 110.48,313.11 112.57,305.81 114.66,326.96 116.75,336.47 118.84,349.51 120.93,332.97 123.02,328.32 125.1,299.33 127.19,319.35 129.28,338.78 131.37,367.12 133.46,319.91 135.55,325.3 137.64,351.98 139.73,333.44 141.82,354.01 143.91,287.46 146,304.09 148.08,315.94 150.17,329.44 152.26,360.49 154.35,339.89 156.44,354.86 158.53,328.3 160.62,360.19 162.71,350.82 164.8,318.51 166.88,304.46 168.97,340.74 171.06,353.75 173.15,322.23 175.24,313.94 177.33,337.01 179.42,337.89 181.51,337.33 183.6,343.39 185.69,336.96 187.78,307.37 189.86,307.11 191.95,287.01 194.04,311.4 196.13,317.41 198.22,330.07 200.31,320.37 202.4,333.92 204.49,343.08 206.58,309.73 208.66,290.15 210.75,292.98 212.84,285.93 214.93,298.61 217.02,314.68 219.11,306.58 221.2,310.27 223.29,320.81 225.38,330.85 227.47,329.64 229.55,307.74 231.64,299.3 233.73,305.22 235.82,279.11 237.91,289.41 240,285.53 242.09,274.82 244.18,300.09 246.27,321.83 248.36,288.14 250.44,299.24 252.53,273.08"/>
<polyline points="31.1,324.43 33.19,324.3 35.28,364.34 37.37,334.91 39.46,347.17 41.55,351.4 43.63,347.94 45.72,330.12 47.81,324.03 49.9,320.72 51.99,357.52 54.08,351.66 56.17,375.33 58.26,349.23 60.35,332.81 62.44,347.92 64.52,337.49 66.61,335.07 68.7,323.53 70.79,346.41 72.88,352.24 74.97,352.77 77.06,317.46 79.15,317.96 81.24,335.19 83.33,334.57 85.41,335.99 87.5,335.09 89.59,340.67 91.68,343.83 93.77,357.62 95.86,352.4 97.95,318.81 100.04,326.1 102.13,334.57 104.22,340.62 106.3,338.23 108.39,333.54 110.48,346.44 112.57,337.8 114.66,335.02 116.75,348.26 118.84,352.14 120.93,356.06 123.02,357.95 125.1,330.91 127.19,369.93 129.28,350.2 131.37,350.11 133.46,350.22 135.55,340.14 137.64,323.1 139.73,333.65 141.82,339.35 143.91,347.42 146,342.63 148.08,326.76 150.17,341.2 152.26,355.41 154.35,360.62 156.44,359.7 158.53,387.79 160.62,329.34 162.71,331.29 164.8,340.12 166.88,318.42 168.97,342.83 171.06,328.02 173.15,322.87 175.24,353.87 177.33,361 179.42,353.14 181.51,324.56 183.6,311.15 185.69,342.58 187.78,317.6 189.86,330.74 191.95,333.4 194.04,335.51 196.13,332.07 198.22,351.48 200.31,344.05 202.4,344.72 204.49,319.8 206.58,290.27 208.66,273.06 210.75,311.21 212.84,339.48 214.93,327.26 217.02,330.92 219.11,289.89 221.2,298.76 223.29,318.51 225.38,299.22 227.47,299.26 229.55,328.94 231.64,320.17 233.73,313.09 235.82,306.91 237.91,302.99 240,307.88 242.09,300.87 244.18,309.28 246.27,314.98 248.36,281.64 250.44,288.81 252.53,288.73"/>
<polyline points="31.1,353.65 33.19,340.36 35.28,366.77 37.37,339.71 39.46,353.9 41.55,346.29 43.63,351.93 45.72,348.39 47.81,333.63 49.9,352.58 51.99,329.59 54.08,356.9 56.17,365.84 58.26,344.93 60.35,364.73 62.44,359.89 64.52,340.68 66.61,331.6 68.7,371.39 70.79,349.2 72.88,324.25 74.97,327.71 77.06,348.8 79.15,359.15 81.24,357.45 83.33,369.09 85.41,359.48 87.5,355.99 89.59,354.54 91.68,290.58 93.77,350.59 95.86,371.67 97.95,341.6 100.04,364 102.13,360.78 104.22,355.57 106.3,357.22 108.39,366.92 110.48,358.72 112.57,322.4 114.66,352.63 116.75,353.56 118.84,336.04 120.93,337 123.02,336.98 125.1,335.58 127.19,375.11 129.28,369.43 131.37,354.04 133.46,344.97 135.55,331.49 137.64,339.74 139.73,351.78 141.82,350.88 143.91,354.18 146,348.55 148.08,341.12 150.17,353.55 152.26,363.34 154.35,366.36 156.44,339.62 158.53,330.34 160.62,332.09 162.71,334.44 164.8,335.35 166.88,347.36 168.97,340.97 171.06,362.52 173.15,355.17 175.24,360.03 177.33,339.89 179.42,352.5 181.51,348.23 183.6,339.22 185.69,322.75 187.78,348.1 189.86,355.73 191.95,332.12 194.04,352.55 196.13,334.92 198.22,344.14 200.31,339.13 202.4,361.26 204.49,330.32 206.58,338.91 208.66,345.89 210.75,304.94 212.84,313.16 214.93,275.04 217.02,308.42 219.11,326.64 221.2,324 223.29,301.44 225.38,318.05 227.47,314.69 229.55,312.15 231.64,330.84 233.73,320.1 235.82,325.54 237.91,336.59 240,308.74 242.09,303.92 244.18,310.26 246.27,324.91 248.36,343.27 250.44,311.98 252.53,311.61"/>
<polyline points="31.1,352.74 33.19,373.54 35.28,357.68 37.37,393.89 39.46,346.76 41.55,347.55 43.63,348.4 45.72,367.08 47.81,361.1 49.9,361.4 51.99,357.59 54.08,349.52 56.17,342.58 58.26,326.53 60.35,381.74 62.44,353.71 64.52,355.15 66.61,320.64 68.7,330.93 70.79,369.94 72.88,350.75 74.97,358.95 77.06,339.66 79.15,363.71 81.24,356.28 83.33,354.85 85.41,354 87.5,360.65 89.59,379.98 91.68,352.43 93.77,337.96 95.86,349.37 97.95,365.6 100.04,352.46 102.13,344.07 104.22,352.42 106.3,352.22 108.39,332.13 110.48,362.72 112.57,362.46 114.66,381.39 116.75,369.13 118.84,366.62 120.93,369.11 123.02,365.98 125.1,330.1 127.19,349.21 129.28,352.84 131.37,321.16 133.46,345.07 135.55,374.62 137.64,351.9 139.73,365.1 141.82,332.11 143.91,364.5 146,363.23 148.08,377.35 150.17,356.89 152.26,367.45 154.35,356.71 156.44,358.41 158.53,362.16 160.62,341.18 162.71,336.04 164.8,347.05 166.88,363.37 168.97,369.85 171.06,351.55 173.15,316.32 175.24,346.86 177.33,358.33 179.42,359.2 181.51,364.25 183.6,363 185.69,351.1 187.78,324.27 189.86,337 191.95,346.59 194.04,363.76 196.13,341.53 198.22,338.58 200.31,353.96 202.4,355.07 204.49,339.85 206.58,320.42 208.66,320.22 210.75,325.33 212.84,333.28 214.93,325.42 217.02,327.37 219.11,296.3 221.2,334.32 223.29,332.29 225.38,307.95 227.47,322.7 229.55,301.8 231.64,316.49 233.73,316.72 235.82,323.27 237.91,338.36 240,335.59 242.09,289.24 244.18,298.99 246.27,301.21 248.36,296.09 250.44,299.45 252.53,293.14"/>
<polyline points="31.1,345.72 33.19,329.5 35.28,344.27 37.37,361.75 39.46,350.55 41.55,352.24 43.63,336.35 45.72,351.17 47.81,359.67 49.9,351.53 51.99,322.94 54.08,338.34 56.17,339.25 58.26,341.61 60.35,338.17 62.44,328.4 64.52,319.37 66.61,359.94 68.7,327.74 70.79,338.91 72.88,346.18 74.97,309.69 77.06,336.74 79.15,313.72 81.24,321.72 83.33,351.87 85.41,338.02 87.5,331.06 89.59,341.46 91.68,375.09 93.77,355.55 95.86,348.52 97.95,359.67 100.04,321.13 102.13,340.66 104.22,347.64 106.3,348.06 108.39,354.99 110.48,356.61 112.57,344.76 114.66,338.71 116.75,348.76 118.84,345.4 120.93,362.87 123.02,340.3 125.1,352.57 127.19,342.05 129.28,355.22 131.37,353 133.46,297.62 135.55,359.53 137.64,312.03 139.73,335.46 141.82,341.82 143.91,352.73 146,322.65 148.08,318.07 150.17,332.23 152.26,359.26 154.35,353.85 156.44,336.72 158.53,348.33 160.62,360.7 162.71,363.84 164.8,358.76 166.88,346.43 168.97,352.68 171.06,343.81 173.15,301.74 175.24,304.81 177.33,344.4 179.42,334.06 181.51,334.31 183.6,336.77 185.69,319.97 187.78,334.37 189.86,337.1 191.95,337.71 194.04,333.22 196.13,311.79 198.22,312.84 200.31,342.16 202.4,336.04 204.49,338.75 206.58,315.92 208.66,317.77 210.75,308.08 212.84,318.3 214.93,346.09 217.02,319.02 219.11,314.63 221.2,308.8 223.29,332.08 225.38,317.63 227.47,324.07 229.55,324.9 231.64,309.67 233.73,305.11 235.82,320.73 237.91,335.41 240,349.04 242.09,324.92 244.18,294.2 246.27,302.33 248.36,334.53 250.44,322.24 252.53,300.3"/>
<polyline points="31.1,313.38 33.19,320.55 35.28,324.73 37.37,343.48 39.46,339.61 41.55,336.97 43.63,342.52 45.72,386.85 47.81,335.93 49.9,326.61 51.99,308.82 54.08,314.14 56.17,320.02 58.26,330.77 60.35,351.48 62.44,336.85 64.52,323.93 66.61,342.56 68.7,315.35 70.79,330.91 72.88,324.86 74.97,333.22 77.06,348.37 79.15,305.33 81.24,340.07 83.33,319.45 85.41,335.07 87.5,327.21 89.59,340.53 91.68,338.37 93.77,319 95.86,299.71 97.95,334.23 100.04,330.79 102.13,316.72 104.22,335.44 106.3,321.22 108.39,338.74 110.48,323.55 112.57,322.11 114.66,310.83 116.75,319.96 118.84,344.17 120.93,324.06 123.02,343.9 125.1,322.77 127.19,306.79 129.28,315.68 131.37,334.09 133.46,314.1 135.55,323.54 137.64,345.8 139.73,338.82 141.82,312.08 143.91,329.68 146,328.08 148.08,334.22 150.17,354.68 152.26,343.24 154.35,328.16 156.44,326.48 158.53,331.44 160.62,360.31 162.71,320.23 164.8,317.29 166.88,312.28 168.97,307.12 171.06,329.39 173.15,336.43 175.24,324.47 177.33,301.56 179.42,342.38 181.51,331.3 183.6,334.59 185.69,316.68 187.78,298.68 189.86,318.21 191.95,335.62 194.04,321.03 196.13,321.31 198.22,338.34 200.31,307.61 202.4,319 204.49,304.07 206.58,327.72 208.66,298.88 210.75,326.64 212.84,297.66 214.93,330 217.02,292.35 219.11,306.89 221.2,326.39 223.29,311.88 225.38,299.41 227.47,314.23 229.55,310.15 231.64,297.61 233.73,299.88 235.82,340.47 237.91,312.72 240,292.93 242.09,289.04 244.18,277.27 246.27,297.49 248.36,256.07 250.44,269.64 252.53,279.13"/>
<polyline points="31.1,320.25 33.19,328.89 35.28,341.24 37.37,321.15 39.46,324.6 41.55,358.08 43.63,355.35 45.72,332.52 47.81,331.87 49.9,329.29 51.99,323.55 54.08,329.11 56.17,310.25 58.26,336.14 60.35,339.93 62.44,330.71 64.52,322.44 66.61,319.79 68.7,309.26 70.79,334.3 72.88,317.41 74.97,323.03 77.06,345.72 79.15,338.63 81.24,305.55 83.33,315.59 85.41,335.78 87.5,368.01 89.59,352.63 91.68,348.33 93.77,336.27 95.86,301.79 97.95,315.21 100.04,324.66 102.13,344.61 104.22,353.14 106.3,341.48 108.39,342.23 110.48,293.47 112.57,329.33 114.66,341.28 116.75,319.69 118.84,329.1 120.93,349.94 123.02,319.59 125.1,334.56 127.19,352.63 129.28,333.9 131.37,326.87 133.46,336.75 135.55,324.63 137.64,319.87 139.73,342.67 141.82,364.92 143.91,375.21 146,345.88 148.08,319.41 150.17,316 152.26,309.66 154.35,301.54 156.44,325.43 158.53,316.75 160.62,351 162.71,328.31 164.8,326.82 166.88,333.3 168.97,339.83 171.06,349.91 173.15,333.96 175.24,313.18 177.33,330.38 179.42,321.25 181.51,335.03 183.6,324.77 185.69,339.19 187.78,322.51 189.86,325.96 191.95,318.54 194.04,328.89 196.13,338.73 198.22,328.48 200.31,305.91 202.4,291.85 204.49,314.38 206.58,303.4 208.66,300.45 210.75,304.1 212.84,331.62 214.93,311.31 217.02,323.68 219.11,295.76 221.2,293.48 223.29,294.54 225.38,338.45 227.47,304.18 229.55,293.73 231.64,318.2 233.73,291.87 235.82,297.12 237.91,301.3 240,309.04 242.09,314.5 244.18,306.86 246.27,264.75 248.36,281.35 250.44,287.2 252.53,299.95"/>
<polyline points="31.1,352.66 33.19,359.32 35.28,336.16 37.37,346.52 39.46,333.1 41.55,358.21 43.63,335.13 45.72,342.83 47.81,334.97 49.9,343.87 51.99,357.14 54.08,330.9 56.17,347.53 58.26,347.62 60.35,358.05 62.44,345.3 64.52,350.48 66.61,342.31 68.7,339.39 70.79,353.22 72.88,366.84 74.97,344.28 77.06,331.81 79.15,331.81 81.24,357.75 83.33,339.58 85.41,338.14 87.5,339.2 89.59,337.42 91.68,347.58 93.77,342.54 95.86,331.24 97.95,348.59 100.04,366.1 102.13,351.67 104.22,343.82 106.3,370.61 108.39,360.85 110.48,340.58 112.57,345.92 114.66,343.84 116.75,362.37 118.84,336.49 120.93,318.07 123.02,341 125.1,354.23 127.19,363.53 129.28,337 131.37,341.45 133.46,355.22 135.55,330.37 137.64,330.49 139.73,332.79 141.82,366.66 143.91,351.79 146,337.8 148.08,360.36 150.17,335.67 152.26,322.43 154.35,324.71 156.44,350.01 158.53,356.14 160.62,334.43 162.71,328.27 164.8,323.42 166.88,322.61 168.97,340.73 171.06,348.59 173.15,370.14 175.24,337.57 177.33,307.63 179.42,337.97 181.51,344.95 183.6,330.08 185.69,329.46 187.78,353.11 189.86,349 191.95,352.6 194.04,308.78 196.13,335.64 198.22,319.44 200.31,299.63 202.4,294.23 204.49,298.71 206.58,296.18 208.66,335.13 210.75,331.56 212.84,335.28 214.93,329.27 217.02,285.98 219.11,334.96 221.2,314.91 223.29,334.41 225.38,302.23 227.47,293.96 229.55,316.64 231.64,285.16 233.73,304.62 235.82,271.8 237.91,301.3 240,315.28 242.09,315.47 244.18,311.04 246.27,298.8 248.36,301.89 250.44,270.41 252.53,297.74"/>
<polyline points="31.1,354.03 33.19,357.38 35.28,367.55 37.37,363.69 39.46,336.08 41.55,341.09 43.63,345.61 45.72,339.39 47.81,327.73 49.9,331.18 51.99,329.83 54.08,348.26 56.17,348.67 58.26,356.03 60.35,348.29 62.44,356.51 64.52,352.3 66.61,348.46 68.7,348.08 70.79,348.69 72.88,352.02 74.97,384.5 77.06,344.61 79.15,358.32 81.24,344.78 83.33,359.46 85.41,362.9 87.5,347.46 89.59,368.27 91.68,395.35 93.77,352.7 95.86,331.52 97.95,364.34 100.04,361.65 102.13,340.2 104.22,370.97 106.3,362.98 108.39,365.63 110.48,352.12 112.57,373.75 114.66,338.75 116.75,344.64 118.84,339.82 120.93,347.5 123.02,374.68 125.1,353.74 127.19,365.24 129.28,349.09 131.37,357.21 133.46,351.69 135.55,348.81 137.64,334.25 139.73,330.68 141.82,354.75 143.91,346.85 146,324.07 148.08,331.98 150.17,351.19 152.26,347.43 154.35,349.68 156.44,332.08 158.53,340.47 160.62,337.76 162.71,311.21 164.8,355.14 166.88,360.99 168.97,372.57 171.06,372.47 173.15,337.15 175.24,335.51 177.33,315.46 179.42,360.47 181.51,355.55 183.6,320.79 185.69,317.16 187.78,317.52 189.86,317.02 191.95,327.94 194.04,330.5 196.13,329.76 198.22,317.38 200.31,327.68 202.4,322.67 204.49,304.68 206.58,335.75 208.66,337.44 210.75,318.57 212.84,324.74 214.93,324.01 217.02,291.29 219.11,306.03 221.2,320.68 223.29,302.22 225.38,276.83 227.47,320.81 229.55,324.84 231.64,313.99 233.73,321.1 235.82,282.56 237.91,295.33 240,310.76 242.09,301.32 244.18,316.31 246.27,316.6 248.36,305.88 250.44,270.28 252.53,325.94"/>
<polyline points="31.1,319.03 33.19,322.88 35.28,307.19 37.37,324 39.46,332.49 41.55,338.52 43.63,350.25 45.72,318.07 47.81,349.74 49.9,342.72 51.99,346.61 54.08,351.26 56.17,372.67 58.26,352.1 60.35,339.64 62.44,336.44 64.52,325.76 66.61,337.28 68.7,346.9 70.79,335.94 72.88,328.16 74.97,348.32 77.06,362.04 79.15,358.5 81.24,328.27 83.33,321.55 85.41,346.43 87.5,338.59 89.59,326.38 91.68,316.42 93.77,341.93 95.86,342.41 97.95,319.3 100.04,299.41 102.13,306.85 104.22,346.33 106.3,333.81 108.39,341.21 110.48,339.68 112.57,347.81 114.66,347.26 116.75,340.51 118.84,313.27 120.93,322.01 123.02,328.04 125.1,335.18 127.19,347.92 129.28,343.76 131.37,322.03 133.46,322.36 135.55,306.47 137.64,326.49 139.73,335.46 141.82,360.21 143.91,338 146,362.33 148.08,322.64 150.17,343.08 152.26,339.31 154.35,357.41 156.44,349.89 158.53,354.14 160.62,326.15 162.71,331.59 164.8,353.07 166.88,369.02 168.97,346.77 171.06,346.06 173.15,353.9 175.24,331.13 177.33,335.59 179.42,331.74 181.51,339.9 183.6,340.87 185.69,338.79 187.78,353.6 189.86,325.07 191.95,320.36 194.04,348.36 196.13,328.87 198.22,308.4 200.31,315.43 202.4,301.49 204.49,319.27 206.58,319.14 208.66,336.66 210.75,334.71 212.84,346.38 214.93,335.45 217.02,315.89 219.11,306.35 221.2,294.12 223.29,304.83 225.38,322.52 227.47,306.15 229.55,309.41 231.64,282.26 233.73,272.25 235.82,283.03 237.91,314.49 240,312.97 242.09,301.73 244.18,310.86 246.27,294.96 248.36,287.92 250.44,283.24 252.53,289.89"/>
<polyline points="31.1,358.51 33.19,351.34 35.28,329.11 37.37,320.08 39.46,326.22 41.55,336.42 43.63,334.56 45.72,332.03 47.81,324.78 49.9,329.12 51.99,363.89 54.08,337.52 56.17,338.93 58.26,351.19 60.35,340.37 62.44,341.01 64.52,345.99 66.61,370.27 68.7,350.98 70.79,339.88 72.88,345.63 74.97,368.76 77.06,345.72 79.15,336.27 81.24,341.5 83.33,339.35 85.41,349.77 87.5,356.69 89.59,341.76 91.68,350.42 93.77,345.01 95.86,300.37 97.95,325.04 100.04,339.33 102.13,367.66 104.22,350.54 106.3,336.93 108.39,354.14 110.48,351.87 112.57,379.7 114.66,347.08 116.75,355.13 118.84,339.13 120.93,325.54 123.02,343.64 125.1,332.02 127.19,339.45 129.28,347.72 131.37,350.86 133.46,359.69 135.55,331.81 137.64,330.53 139.73,356.78 141.82,337.31 143.91,354.59 146,369.83 148.08,335.54 150.17,361.89 152.26,333.76 154.35,340.61 156.44,332.42 158.53,335.87 160.62,327.68 162.71,337 164.8,336.08 166.88,340.49 168.97,329.67 171.06,346.88 173.15,330.58 175.24,318.81 177.33,337.22 179.42,333.95 181.51,345.8 183.6,344.81 185.69,336.05 187.78,341.58 189.86,349.84 191.95,339.08 194.04,332.5 196.13,328.22 198.22,320.92 200.31,353.32 202.4,315.75 204.49,327.9 206.58,338.63 208.66,334.88 210.75,321.71 212.84,311.61 214.93,325.73 217.02,321.11 219.11,343.88 221.2,323.93 223.29,322.13 225.38,325.41 227.47,306.9 229.55,288.72 231.64,294.11 233.73,320.24 235.82,293.46 237.91,312.21 240,312 242.09,318.77 244.18,305.09 246.27,299.53 248.36,303.11 250.44,308.24 252.53,307.8"/>
<polyline points="31.1,329.78 33.19,347.37 35.28,346.52 37.37,347.17 39.46,354.93 41.55,349.53 43.63,365.6 45.72,343.25 47.81,335.79 49.9,345.76 51.99,322.19 54.08,349.68 56.17,337.21 58.26,335.18 60.35,348.92 62.44,348.21 64.52,332.14 66.61,339.76 68.7,338.57 70.79,322.6 72.88,335.19 74.97,364.85 77.06,359.12 79.15,335.66 81.24,343.32 83.33,358.56 85.41,374.97 87.5,346.8 89.59,323.24 91.68,355.97 93.77,376.98 95.86,344.87 97.95,351.39 100.04,349.56 102.13,349.51 104.22,357.61 106.3,340.83 108.39,329.93 110.48,334.97 112.57,349.13 114.66,330.31 116.75,341.72 118.84,334.89 120.93,354.4 123.02,336.99 125.1,331.43 127.19,322.4 129.28,337.8 131.37,335.83 133.46,349.6 135.55,332.63 137.64,329.88 139.73,324.94 141.82,344.21 143.91,360.7 146,348.71 148.08,347.67 150.17,354.92 152.26,337.87 154.35,328.83 156.44,334.28 158.53,325.65 160.62,333.46 162.71,354.56 164.8,354.38 166.88,351.11 168.97,335.79 171.06,327.64 173.15,335.78 175.24,324.81 177.33,346.88 179.42,341.75 181.51,317.26 183.6,325.02 185.69,317.8 187.78,356.06 189.86,361.82 191.95,351.27 194.04,321.83 196.13,305.09 198.22,331.33 200.31,342.22 202.4,344.57 204.49,342.68 206.58,321.31 208.66,327.28 210.75,297.52 212.84,305.39 214.93,326.12 217.02,317.73 219.11,320.29 221.2,307.02 223.29,301.32 225.38,316.54 227.47,302.35 229.55,302.51 231.64,310.88 233.73,307.45 235.82,299.91 237.91,311.12 240,318.1 242.09,292.09 244.18,302.36 246.27,312.45 248.36,299.56 250.44,322.41 252.53,306.13"/>
<polyline points="31.1,355.48 33.19,375.73 35.28,366.04 37.37,341.27 39.46,349.99 41.55,366.47 43.63,329.7 45.72,353.3 47.81,329.93 49.9,351.91 51.99,370.39 54.08,329.2 56.17,350.42 58.26,339.23 60.35,330.47 62.44,362.94 64.52,351.88 66.61,358.06 68.7,343.28 70.79,348.14 72.88,366.65 74.97,353 77.06,339.82 79.15,351.16 81.24,342.14 83.33,355.03 85.41,351.6 87.5,345.21 89.59,346.45 91.68,331.2 93.77,331.82 95.86,333.44 97.95,335.52 100.04,343.85 102.13,364.14 104.22,338.49 106.3,322.73 108.39,339.7 110.48,350.54 112.57,350.25 114.66,333.01 116.75,341.41 118.84,361.03 120.93,354.74 123.02,361.38 125.1,355.23 127.19,363.26 129.28,364.98 131.37,332.9 133.46,330.88 135.55,367.02 137.64,367.38 139.73,360.11 141.82,357.5 143.91,370.54 146,342.5 148.08,369.95 150.17,345.02 152.26,338.76 154.35,351.85 156.44,359.1 158.53,351.05 160.62,347.82 162.71,377.96 164.8,373.85 166.88,348.25 168.97,350.66 171.06,354.45 173.15,362.59 175.24,359.87 177.33,359.23 179.42,309.3 181.51,351.79 183.6,323.24 185.69,329.85 187.78,334.39 189.86,334.99 191.95,342.3 194.04,315.97 196.13,323.75 198.22,332.32 200.31,334.98 202.4,330.44 204.49,346.99 206.58,339.03 208.66,340.47 210.75,322.92 212.84,318.01 214.93,349.97 217.02,334.58 219.11,313.27 221.2,338.61 223.29,342.63 225.38,312.79 227.47,320.12 229.55,325.61 231.64,336.73 233.73,319.65 235.82,324.62 237.91,314.49 240,308.25 242.09,302.09 244.18,313.93 246.27,318.88 248.36,311.7 250.44,310.9 252.53,306.19"/>
<polyline points="31.1,347.34 33.19,352.93 35.28,354.35 37.37,344.45 39.46,328.24 41.55,347.46 43.63,336.84 45.72,337.47 47.81,340.88 49.9,333.89 51.99,349.18 54.08,337.55 56.17,338.29 58.26,390.69 60.35,350.79 62.44,337.46 64.52,315.45 66.61,351.5 68.7,344.57 70.79,339.32 72.88,356.21 74.97,330.53 77.06,334.45 79.15,352.61 81.24,362.69 83.33,354.45 85.41,313.92 87.5,306.75 89.59,368.87 91.68,375.36 93.77,342.65 95.86,345.17 97.95,353.08 100.04,337.96 102.13,341.19 104.22,339.36 106.3,339.21 108.39,357.84 110.48,329.33 112.57,346.7 114.66,329.07 116.75,330.75 118.84,340.18 120.93,341.15 123.02,343.95 125.1,369.43 127.19,354.87 129.28,340.82 131.37,365.51 133.46,369.99 135.55,335.61 137.64,330.75 139.73,362.08 141.82,342.18 143.91,344.25 146,330.59 148.08,345.17 150.17,347.39 152.26,355.26 154.35,344.36 156.44,345.88 158.53,353.56 160.62,351.22 162.71,356.27 164.8,338.48 166.88,356.94 168.97,368.81 171.06,362.55 173.15,331.87 175.24,345.45 177.33,332.09 179.42,326.75 181.51,341.88 183.6,327.36 185.69,326.42 187.78,333.02 189.86,343.08 191.95,335.88 194.04,350.24 196.13,339.1 198.22,339.77 200.31,325.04 202.4,321.91 204.49,334 206.58,315.35 208.66,305.37 210.75,317.73 212.84,331.23 214.93,316.56 217.02,353 219.11,335.57 221.2,314.24 223.29,288.42 225.38,319.23 227.47,294.69 229.55,276.67 231.64,277.55 233.73,335.94 235.82,301.71 237.91,305 240,293.61 242.09,306.56 244.18,315.1 246.27,311.08 248.36,285.24 250.44,287.21 252.53,302.7"/>
<polyline points="31.1,326.21 33.19,327.33 35.28,336.1 37.37,346.86 39.46,350.74 41.55,347.44 43.63,348.25 45.72,362.74 47.81,364.08 49.9,332.47 51.99,352.42 54.08,360.08 56.17,344.31 58.26,319.58 60.35,315.98 62.44,338.45 64.52,352.74 66.61,349.36 68.7,353.74 70.79,349.8 72.88,334.43 74.97,352.17 77.06,352.64 79.15,345.49 81.24,340.45 83.33,349.53 85.41,352.12 87.5,357.53 89.59,353.6 91.68,334.79 93.77,340.8 95.86,382.38 97.95,340.67 100.04,339.83 102.13,350.87 104.22,344.99 106.3,382.33 108.39,372.45 110.48,330.51 112.57,306.43 114.66,299.77 116.75,338.95 118.84,337.9 120.93,327.26 123.02,352.76 125.1,317.44 127.19,343.21 129.28,334.56 131.37,353.49 133.46,336.96 135.55,338.18 137.64,323.06 139.73,350.69 141.82,341.52 143.91,313.56 146,348.87 148.08,335.98 150.17,331.56 152.26,343.59 154.35,343.38 156.44,319.69 158.53,317.61 160.62,325.15 162.71,331.24 164.8,352.47 166.88,340.56 168.97,313.64 171.06,316.29 173.15,350.1 175.24,367.84 177.33,351.67 179.42,335.18 181.51,340.36 183.6,337.46 185.69,326.81 187.78,315.58 189.86,321.65 191.95,307.74 194.04,341.15 196.13,322.09 198.22,317.15 200.31,342.11 202.4,308.96 204.49,340.05 206.58,344.91 208.66,287.34 210.75,291.55 212.84,304.77 214.93,293.51 217.02,292.81 219.11,323.99 221.2,308.27 223.29,290.62 225.38,307.46 227.47,307.6 229.55,314.45 231.64,298.48 233.73,311.89 235.82,314.94 237.91,323.96 240,321.22 242.09,303.55 244.18,294.79 246.27,303.97 248.36,314.84 250.44,297.15 252.53,291.7"/>
<polyline points="31.1,339.42 33.19,339.99 35.28,327.05 37.37,309.48 39.46,327.38 41.55,332.31 43.63,345.66 45.72,341.06 47.81,321.17 49.9,317.53 51.99,312.88 54.08,350.76 56.17,325.12 58.26,343.68 60.35,326.81 62.44,364.57 64.52,341.82 66.61,347.27 68.7,318.06 70.79,327.09 72.88,312.63 74.97,333.69 77.06,304.82 79.15,331.8 81.24,305.33 83.33,332.54 85.41,346.35 87.5,323.14 89.59,335.74 91.68,334.05 93.77,351.91 95.86,342.16 97.95,333.22 100.04,342.62 102.13,329.39 104.22,364.3 106.3,327.68 108.39,337.02 110.48,312.65 112.57,332.44 114.66,341.74 116.75,341.12 118.84,330.63 120.93,323.48 123.02,336.74 125.1,344.81 127.19,329.36 129.28,319.88 131.37,354.09 133.46,352.74 135.55,347.05 137.64,311.74 139.73,309.7 141.82,315.36 143.91,321.09 146,345.5 148.08,319.67 150.17,335.52 152.26,344.49 154.35,307.84 156.44,346.88 158.53,316.3 160.62,325.49 162.71,343.79 164.8,332.69 166.88,344.47 168.97,332.74 171.06,340.63 173.15,349.55 175.24,296.21 177.33,327.14 179.42,312.85 181.51,323.28 183.6,314.77 185.69,339.52 187.78,341.79 189.86,373.44 191.95,319.55 194.04,313.27 196.13,334.05 198.22,309.76 200.31,306.37 202.4,271.46 204.49,300.33 206.58,297.09 208.66,299.81 210.75,297.47 212.84,307.45 214.93,314.75 217.02,299.75 219.11,287.73 221.2,318.22 223.29,324.65 225.38,309.85 227.47,279.1 229.55,299.28 231.64,324.82 233.73,294.67 235.82,287.1 237.91,267.48 240,286.81 242.09,265.48 244.18,297.76 246.27,281.87 248.36,288.1 250.44,307.82 252.53,298.91"/>
<polyline points="31.1,315.95 33.19,333.28 35.28,316.39 37.37,315.12 39.46,314.87 41.55,323.52 43.63,325.43 45.72,342.04 47.81,335.37 49.9,330.98 51.99,342.15 54.08,338.53 56.17,331.17 58.26,328.63 60.35,315.99 62.44,342.55 64.52,340.18 66.61,330.09 68.7,336.81 70.79,328.35 72.88,337.66 74.97,316.48 77.06,331.27 79.15,347.91 81.24,325.18 83.33,306.45 85.41,352.97 87.5,338.97 89.59,332.63 91.68,317.32 93.77,306.88 95.86,327.85 97.95,353.06 100.04,327.62 102.13,316.43 104.22,321.37 106.3,328.09 108.39,342.48 110.48,299.76 112.57,340.91 114.66,355.58 116.75,323.85 118.84,325.75 120.93,320.74 123.02,323.97 125.1,305.85 127.19,305.03 129.28,332.97 131.37,317.84 133.46,345.09 135.55,359.45 137.64,321.59 139.73,335.38 141.82,363.29 143.91,339.96 146,343.31 148.08,327.47 150.17,331.56 152.26,342.71 154.35,344.7 156.44,324.12 158.53,343.12 160.62,332.82 162.71,346.14 164.8,328.97 166.88,305.72 168.97,317.18 171.06,311.24 173.15,318.43 175.24,339.59 177.33,334.69 179.42,327.4 181.51,319.56 183.6,331.65 185.69,316.59 187.78,331.02 189.86,322.68 191.95,320.9 194.04,335.92 196.13,308.24 198.22,314.1 200.31,313.96 202.4,315.15 204.49,344.18 206.58,340.65 208.66,331.78 210.75,301.93 212.84,316.02 214.93,301.91 217.02,320.9 219.11,322.24 221.2,316.47 223.29,292.51 225.38,324.37 227.47,310.49 229.55,297.98 231.64,297.92 233.73,299.3 235.82,287.55 237.91,290.82 240,309.29 242.09,289.79 244.18,304.26 246.27,300.84 248.36,273.74 250.44,252.08 252.53,259.99"/>
<polyline points="31.1,348.91 33.19,351.4 35.28,317.55 37.37,328.04 39.46,355.09 41.55,319.82 43.63,325.07 45.72,315.9 47.81,326.59 49.9,365.66 51.99,355.25 54.08,344.21 56.17,341.81 58.26,317.34 60.35,342.24 62.44,340.33 64.52,339.26 66.61,339.49 68.7,352.95 70.79,358.99 72.88,379.75 74.97,343.58 77.06,342.14 79.15,336.02 81.24,352.36 83.33,341.42 85.41,352.54 87.5,355.89 89.59,337.56 91.68,328.73 93.77,327.29 95.86,335.81 97.95,342.82 100.04,319.24 102.13,315.51 104.22,341.26 106.3,354.13 108.39,336.64 110.48,333.01 112.57,349.59 114.66,308.38 116.75,360.15 118.84,355.26 120.93,338.76 123.02,324 125.1,360.7 127.19,349.74 129.28,320.43 131.37,313.52 133.46,335.35 135.55,336.69 137.64,350.12 139.73,335.31 141.82,352.08 143.91,370.23 146,367.55 148.08,344.49 150.17,358.24 152.26,327.19 154.35,316.95 156.44,318.46 158.53,323.71 160.62,318.2 162.71,329.17 164.8,323.35 166.88,327.57 168.97,324.15 171.06,347.8 173.15,347.88 175.24,351.93 177.33,326.23 179.42,323.62 181.51,340.56 183.6,346.86 185.69,341.83 187.78,319.22 189.86,326.79 191.95,329.71 194.04,336.06 196.13,328.76 198.22,301.79 200.31,326.71 202.4,327.42 204.49,297.7 206.58,303.37 208.66,330.4 210.75,304.75 212.84,330.94 214.93,310.88 217.02,348.87 219.11,335.87 221.2,304.7 223.29,317.59 225.38,321.87 227.47,311.13 229.55,308.39 231.64,313.6 233.73,317.09 235.82,282.07 237.91,276.87 240,291.31 242.09,315.15 244.18,311.5 246.27,306.44 248.36,293.37 250.44,273.5 252.53,297.87"/>
<polyline points="31.1,345.8 33.19,339.2 35.28,349.32 37.37,336.72 39.46,322.48 41.55,340.99 43.63,344.65 45.72,339.28 47.81,358.21 49.9,318.61 51.99,353.4 54.08,348.19 56.17,354.34 58.26,322.06 60.35,342.16 62.44,347.46 64.52,314.82 66.61,335.16 68.7,349.57 70.79,342.23 72.88,337.56 74.97,349.72 77.06,344.78 79.15,343.92 81.24,330.47 83.33,326.48 85.41,324.54 87.5,337.62 89.59,327.83 91.68,339.71 93.77,323.22 95.86,329.82 97.95,343.24 100.04,323.07 102.13,356.99 104.22,357.74 106.3,355.49 108.39,345.48 110.48,358.56 112.57,361.44 114.66,371.89 116.75,346.1 118.84,352.17 120.93,311.71 123.02,321.7 125.1,351.4 127.19,323.87 129.28,334.21 131.37,323.02 133.46,351.25 135.55,326.11 137.64,320.7 139.73,340.83 141.82,352 143.91,348.11 146,338.03 148.08,305.11 150.17,305.38 152.26,309.82 154.35,335.3 156.44,343.22 158.53,335.33 160.62,342.47 162.71,346.99 164.8,344.44 166.88,328.87 168.97,337.92 171.06,334.82 173.15,340.36 175.24,340.01 177.33,341.07 179.42,317.98 181.51,326.04 183.6,309.39 185.69,328.05 187.78,314.46 189.86,344.94 191.95,337.9 194.04,330.52 196.13,336.02 198.22,329.27 200.31,338.28 202.4,328.97 204.49,333.01 206.58,323.84 208.66,324.91 210.75,334.39 212.84,327.6 214.93,318.94 217.02,334.44 219.11,318.14 221.2,296.94 223.29,311.79 225.38,303.74 227.47,299.91 229.55,318.34 231.64,292.11 233.73,267.92 235.82,311.2 237.91,276.3 240,307.25 242.09,283.51 244.18,323.14 246.27,290.5 248.36,295.71 250.44,316.35 252.53,314.25"/>
<polyline points="31.1,360.34 33.19,345.4 35.28,349.57 37.37,383.59 39.46,360.98 41.55,344.31 43.63,345.49 45.72,323.1 47.81,367.48 49.9,349.1 51.99,347.52 54.08,337.32 56.17,363.98 58.26,370.19 60.35,355.63 62.44,348.5 64.52,373.47 66.61,348.86 68.7,347.97 70.79,337.27 72.88,381.98 74.97,349.06 77.06,360.53 79.15,357.57 81.24,339.01 83.33,321.48 85.41,338.88 87.5,346.94 89.59,328.87 91.68,355.56 93.77,351.75 95.86,355.77 97.95,363.55 100.04,348.82 102.13,319.01 104.22,336.92 106.3,337.84 108.39,345.59 110.48,331.09 112.57,340.89 114.66,358.4 116.75,348.87 118.84,327.52 120.93,343.76 123.02,329.62 125.1,344.08 127.19,317.97 129.28,336.18 131.37,335.44 133.46,348.65 135.55,336 137.64,347.89 139.73,368.62 141.82,348.54 143.91,364.91 146,330.94 148.08,332.18 150.17,343.48 152.26,336.78 154.35,381.61 156.44,334.32 158.53,353.46 160.62,339.55 162.71,309.24 164.8,360.89 166.88,356.77 168.97,345.02 171.06,339.94 173.15,367.8 175.24,363.25 177.33,327.05 179.42,346.83 181.51,334.62 183.6,358.06 185.69,356.66 187.78,368.43 189.86,340.95 191.95,320.74 194.04,329.97 196.13,336.72 198.22,330.33 200.31,324.74 202.4,333.32 204.49,322.72 206.58,299.47 208.66,289.05 210.75,325.3 212.84,343.35 214.93,302.04 217.02,304.18 219.11,300.63 221.2,307.63 223.29,320.37 225.38,305.74 227.47,299.29 229.55,296.09 231.64,326.56 233.73,303.43 235.82,316.44 237.91,319.02 240,308.81 242.09,315.4 244.18,278.52 246.27,293.37 248.36,300.5 250.44,308 252.53,302.87"/>
<polyline points="31.1,333.91 33.19,327.84 35.28,326.66 37.37,356.05 39.46,350.3 41.55,342.97 43.63,359.64 45.72,341.14 47.81,343.9 49.9,341.74 51.99,336.61 54.08,349.56 56.17,321.92 58.26,322.38 60.35,344.96 62.44,336.22 64.52,330.11 66.61,349.94 68.7,349.11 70.79,333.96 72.88,376.63 74.97,369.42 77.06,344.28 79.15,333.85 81.24,353.16 83.33,332.71 85.41,308.38 87.5,330.71 89.59,339.83 91.68,340.54 93.77,356.06 95.86,337.78 97.95,338.47 100.04,330.64 102.13,319.01 104.22,335.8 106.3,337.95 108.39,336.43 110.48,316.04 112.57,356.22 114.66,345.67 116.75,351.87 118.84,342.74 120.93,330.46 123.02,338.19 125.1,330.69 127.19,336.57 129.28,350.79 131.37,353.6 133.46,364.54 135.55,344.52 137.64,348.26 139.73,331.71 141.82,325.79 143.91,350.55 146,359.58 148.08,337.86 150.17,353.46 152.26,341.96 154.35,333.41 156.44,345.37 158.53,317.68 160.62,346.96 162.71,337.27 164.8,346.7 166.88,384.02 168.97,354.98 171.06,346.51 173.15,333.16 175.24,339.14 177.33,348.32 179.42,346.8 181.51,342.65 183.6,325.8 185.69,335.44 187.78,315.73 189.86,315.35 191.95,337.11 194.04,316.66 196.13,357.41 198.22,334.41 200.31,342.14 202.4,330.82 204.49,309.49 206.58,319.71 208.66,323.87 210.75,303.65 212.84,326.71 214.93,332.66 217.02,307.84 219.11,305.97 221.2,333.62 223.29,317.42 225.38,303.67 227.47,312.81 229.55,317.74 231.64,310.56 233.73,306.9 235.82,318.19 237.91,298.43 240,326.87 242.09,311.95 244.18,276.14 246.27,311.67 248.36,305.3 250.44,334.57 252.53,320.67"/>
<polyline points="31.1,347.33 33.19,354.92 35.28,323.85 37.37,355.13 39.46,350.29 41.55,345.6 43.63,338.41 45.72,333.05 47.81,366.47 49.9,321.73 51.99,345.9 54.08,357.72 56.17,373.81 58.26,360.84 60.35,376.4 62.44,352.59 64.52,357.73 66.61,345.96 68.7,358.76 70.79,349.78 72.88,317.11 74.97,323.85 77.06,339.81 79.15,360.01 81.24,330.46 83.33,367.7 85.41,373.02 87.5,336.06 89.59,353.62 91.68,330.46 93.77,335.64 95.86,314.27 97.95,314.47 100.04,331.49 102.13,352.93 104.22,341 106.3,326.56 108.39,340.83 110.48,387.26 112.57,363.3 114.66,357.18 116.75,351.27 118.84,353.93 120.93,333.5 123.02,362.45 125.1,345.56 127.19,375.61 129.28,385.8 131.37,371.93 133.46,364.77 135.55,365.03 137.64,362.36 139.73,343.12 141.82,338.79 143.91,344.77 146,344.58 148.08,357.15 150.17,364.41 152.26,372.38 154.35,360.16 156.44,367.25 158.53,357.61 160.62,340.37 162.71,338.55 164.8,327.11 166.88,356.15 168.97,381.29 171.06,371.19 173.15,324.06 175.24,329.78 177.33,346.52 179.42,325.06 181.51,343.44 183.6,317.81 185.69,339.93 187.78,344.71 189.86,329.56 191.95,351.01 194.04,341.76 196.13,309 198.22,321.22 200.31,345.24 202.4,338.44 204.49,332.81 206.58,340.94 208.66,325.7 210.75,309.3 212.84,321.38 214.93,311.77 217.02,316.96 219.11,319.69 221.2,332.15 223.29,310.3 225.38,298.56 227.47,320.3 229.55,330.98 231.64,313.13 233.73,313.81 235.82,298.76 237.91,303.18 240,312.29 242.09,331.52 244.18,307.23 246.27,307.75 248.36,326.38 250.44,333.39 252.53,339.14"/>
<polyline points="31.1,342.89 33.19,385.16 35.28,361.26 37.37,351.86 39.46,342.1 41.55,337.59 43.63,341.75 45.72,327.53 47.81,319.98 49.9,335.72 51.99,314.24 54.08,332.91 56.17,348 58.26,337.39 60.35,357.13 62.44,346.08 64.52,354.04 66.61,347.16 68.7,336.59 70.79,371.31 72.88,339.86 74.97,333.86 77.06,339.1 79.15,327.26 81.24,329.55 83.33,340.1 85.41,351.78 87.5,330.2 89.59,324.42 91.68,354.51 93.77,351.5 95.86,357.16 97.95,330.16 100.04,343.24 102.13,356.06 104.22,320.32 106.3,326.25 108.39,330.85 110.48,331.85 112.57,338.07 114.66,336.64 116.75,324.13 118.84,327.38 120.93,340.92 123.02,336.48 125.1,310.28 127.19,338.02 129.28,355.75 131.37,339.92 133.46,353.72 135.55,303.95 137.64,319.79 139.73,324.29 141.82,328.5 143.91,306.92 146,343.74 148.08,339.29 150.17,361.05 152.26,325.34 154.35,335.05 156.44,311.4 158.53,334.4 160.62,350.99 162.71,350.34 164.8,328.86 166.88,346.5 168.97,335.61 171.06,345.75 173.15,347.36 175.24,344.84 177.33,312.52 179.42,341.88 181.51,328.67 183.6,317.76 185.69,336.19 187.78,350.78 189.86,311.09 191.95,297.09 194.04,320.92 196.13,339.56 198.22,314.14 200.31,319.88 202.4,331.66 204.49,327.64 206.58,354.26 208.66,337.82 210.75,338.63 212.84,339.51 214.93,311.99 217.02,308.84 219.11,287.01 221.2,342.89 223.29,327.46 225.38,325.34 227.47,293.3 229.55,288.61 231.64,299.67 233.73,302.07 235.82,313.88 237.91,312.72 240,310.64 242.09,338.83 244.18,282.38 246.27,283.98 248.36,264.46 250.44,270.86 252.53,282.18"/>
</g>
<polyline points="33.2,336.2 35.3,359.7 37.1,337.6 39.7,338.5 41.5,337.3 43.8,330.9 45.9,350 47.6,349.6 49.8,343.8 52.1,343 53.8,348.2 56.1,360.6 58.2,342.9 60.4,335.9 62.6,349.1 64.4,349.1 66.7,341.2 68.8,344.7 70.9,352.6 73.2,337.6 75,329.7 77.3,337.6 79.4,335.5 81.5,332.4 83.3,324.9 85.6,330.6 88,339.6 91.4,351.9 93.9,338.6 95.9,343.6 97.9,321.7 99.9,351.1 101.9,323.3 104.3,331.3 106.5,327.7 108.4,329.7 110.4,317.8 112.4,321.7 114.8,339.6 116.8,354.5 118.8,333.6 121.2,311.8 123.7,321.7 127.1,345.2 129.1,335.6 131.7,314.8 134.3,329.7 136.3,343.6 137.7,332.7 139.8,351.7 142,321.7 144,335.6 146,339.6 147.9,343.6 149.5,339.6 151.9,354.5 154.3,326.7 156.3,349.5 158.3,327.7 160.3,316.8 162.8,331.7 164.8,346.6 166.8,347.6 168.8,355.5 170.8,314.8 172.8,345.6 175.4,365.8 177.4,343.6 179.3,327.7 181.3,345.6 183.3,325.7 185.7,343.6 187.7,309.4 189.7,343.6 191.7,339.6 193.6,333.6 195.6,342 196.6,345.5 198.6,324.6 200.6,306.7 202.5,330.6 204.5,303.7 206.5,332.6 208.5,336.5 210.5,326.6 212.9,352.4 214.9,313.7 216.9,307.7 219.2,305.7 221.2,312.7 223.2,326.6 225.2,322.6 227.2,324.6 229.8,286.9 231.8,322.6 233.1,312.7 235.7,333.5 237.7,318.6 240.3,313.7 242.7,312.7 244.7,307.7 246.3,304.3 248.2,313.7 250.2,292.8" fill="none" stroke="#f51010" stroke-width="1.5" stroke-linejoin="round"/>
<rect x="31.1" y="254.8" width="221.2" height="165" fill="none" stroke="#222" stroke-width="1"/>
<line x1="31.1" y1="419.8" x2="31.1" y2="423.3" stroke="#222" stroke-width="1"/>
<line x1="31.1" y1="254.8" x2="31.1" y2="258.3" stroke="#222" stroke-width="1"/>
<line x1="51.99" y1="419.8" x2="51.99" y2="421.8" stroke="#222" stroke-width="1"/>
<line x1="51.99" y1="254.8" x2="51.99" y2="256.8" stroke="#222" stroke-width="1"/>
<line x1="72.88" y1="419.8" x2="72.88" y2="423.3" stroke="#222" stroke-width="1"/>
<line x1="72.88" y1="254.8" x2="72.88" y2="258.3" stroke="#222" stroke-width="1"/>
<line x1="93.77" y1="419.8" x2="93.77" y2="421.8" stroke="#222" stroke-width="1"/>
<line x1="93.77" y1="254.8" x2="93.77" y2="256.8" stroke="#222" stroke-width="1"/>
<line x1="114.66" y1="419.8" x2="114.66" y2="423.3" stroke="#222" stroke-width="1"/>
<line x1="114.66" y1="254.8" x2="114.66" y2="258.3" stroke="#222" stroke-width="1"/>
<line x1="135.55" y1="419.8" x2="135.55" y2="421.8" stroke="#222" stroke-width="1"/>
<line x1="135.55" y1="254.8" x2="135.55" y2="256.8" stroke="#222" stroke-width="1"/>
<line x1="156.44" y1="419.8" x2="156.44" y2="423.3" stroke="#222" stroke-width="1"/>
<line x1="156.44" y1="254.8" x2="156.44" y2="258.3" stroke="#222" stroke-width="1"/>
<line x1="177.33" y1="419.8" x2="177.33" y2="421.8" stroke="#222" stroke-width="1"/>
<line x1="177.33" y1="254.8" x2="177.33" y2="256.8" stroke="#222" stroke-width="1"/>
<line x1="198.22" y1="419.8" x2="198.22" y2="423.3" stroke="#222" stroke-width="1"/>
<line x1="198.22" y1="254.8" x2="198.22" y2="258.3" stroke="#222" stroke-width="1"/>
<line x1="219.11" y1="419.8" x2="219.11" y2="421.8" stroke="#222" stroke-width="1"/>
<line x1="219.11" y1="254.8" x2="219.11" y2="256.8" stroke="#222" stroke-width="1"/>
<line x1="240" y1="419.8" x2="240" y2="423.3" stroke="#222" stroke-width="1"/>
<line x1="240" y1="254.8" x2="240" y2="258.3" stroke="#222" stroke-width="1"/>
<line x1="31.1" y1="419.72" x2="27.6" y2="419.72" stroke="#222" stroke-width="1"/>
<line x1="252.3" y1="419.72" x2="248.8" y2="419.72" stroke="#222" stroke-width="1"/>
<line x1="31.1" y1="396.24" x2="29.1" y2="396.24" stroke="#222" stroke-width="1"/>
<line x1="252.3" y1="396.24" x2="250.3" y2="396.24" stroke="#222" stroke-width="1"/>
<line x1="31.1" y1="372.76" x2="27.6" y2="372.76" stroke="#222" stroke-width="1"/>
<line x1="252.3" y1="372.76" x2="248.8" y2="372.76" stroke="#222" stroke-width="1"/>
<line x1="31.1" y1="349.28" x2="29.1" y2="349.28" stroke="#222" stroke-width="1"/>
<line x1="252.3" y1="349.28" x2="250.3" y2="349.28" stroke="#222" stroke-width="1"/>
<line x1="31.1" y1="325.8" x2="27.6" y2="325.8" stroke="#222" stroke-width="1"/>
<line x1="252.3" y1="325.8" x2="248.8" y2="325.8" stroke="#222" stroke-width="1"/>
<line x1="31.1" y1="302.32" x2="29.1" y2="302.32" stroke="#222" stroke-width="1"/>
<line x1="252.3" y1="302.32" x2="250.3" y2="302.32" stroke="#222" stroke-width="1"/>
<line x1="31.1" y1="278.84" x2="27.6" y2="278.84" stroke="#222" stroke-width="1"/>
<line x1="252.3" y1="278.84" x2="248.8" y2="278.84" stroke="#222" stroke-width="1"/>
<line x1="31.1" y1="255.36" x2="29.1" y2="255.36" stroke="#222" stroke-width="1"/>
<line x1="252.3" y1="255.36" x2="250.3" y2="255.36" stroke="#222" stroke-width="1"/>
<text x="0" y="0" text-anchor="end" font-size="13.8" fill="#111" font-family="'Liberation Serif', serif" transform="translate(25.6,282.84) scale(0.95,1)" >2</text>
<text x="0" y="0" text-anchor="end" font-size="13.8" fill="#111" font-family="'Liberation Serif', serif" transform="translate(25.6,329.8) scale(0.95,1)" >0</text>
<text x="0" y="0" text-anchor="end" font-size="13.8" fill="#111" font-family="'Liberation Serif', serif" transform="translate(25.6,376.76) scale(0.95,1)" >-2</text>
<text x="0" y="0" text-anchor="end" font-size="13.8" fill="#111" font-family="'Liberation Serif', serif" transform="translate(25.6,423.72) scale(0.95,1)" >-4</text>
<text x="0" y="0" text-anchor="middle" font-size="13.4" fill="#111" font-family="'Liberation Serif', serif" transform="translate(31.1,435.8) scale(0.9,1)" >1900</text>
<text x="0" y="0" text-anchor="middle" font-size="13.4" fill="#111" font-family="'Liberation Serif', serif" transform="translate(72.88,435.8) scale(0.9,1)" >1920</text>
<text x="0" y="0" text-anchor="middle" font-size="13.4" fill="#111" font-family="'Liberation Serif', serif" transform="translate(114.66,435.8) scale(0.9,1)" >1940</text>
<text x="0" y="0" text-anchor="middle" font-size="13.4" fill="#111" font-family="'Liberation Serif', serif" transform="translate(156.44,435.8) scale(0.9,1)" >1960</text>
<text x="0" y="0" text-anchor="middle" font-size="13.4" fill="#111" font-family="'Liberation Serif', serif" transform="translate(198.22,435.8) scale(0.9,1)" >1980</text>
<text x="0" y="0" text-anchor="middle" font-size="13.4" fill="#111" font-family="'Liberation Serif', serif" transform="translate(240,435.8) scale(0.9,1)" >2000</text>
<text x="0" y="0" text-anchor="middle" font-size="12.7" fill="#111" font-family="'Liberation Serif', serif" transform="translate(136.1,451.7)" >Time</text>
<text x="0" y="0" text-anchor="middle" font-size="12.3" fill="#111" font-family="'Liberation Serif', serif" transform="translate(10.6,333.6) rotate(-90)">Temperature (°)</text>
<line x1="74.9" y1="266.5" x2="102.8" y2="266.5" stroke="#ff0808" stroke-width="2.3" stroke-linecap="round"/>
<text x="0" y="0" text-anchor="start" font-size="12.9" fill="#111" font-family="'Liberation Serif', serif" transform="translate(109.5,270.9) scale(0.97,1)" >Obs</text>
<line x1="153.3" y1="266.5" x2="180.5" y2="266.5" stroke="#c4c4c4" stroke-width="0.7"/>
<text x="0" y="0" text-anchor="start" font-size="12.9" fill="#111" font-family="'Liberation Serif', serif" transform="translate(184.6,270.9) scale(0.97,1)" >GCM</text>
<text x="234.4" y="407.7" text-anchor="middle" font-size="14" font-weight="bold" fill="#111" font-family="'Liberation Serif', serif">(c)</text>
<rect x="294.7" y="267.5" width="9.74" height="31.5" fill="#1a1a1a" stroke="#222" stroke-width="1"/>
<rect x="304.44" y="267.5" width="9.74" height="31.5" fill="#d0d0d0" stroke="#222" stroke-width="1"/>
<rect x="314.18" y="267.5" width="9.74" height="31.5" fill="#ffffff" stroke="#222" stroke-width="1"/>
<rect x="323.93" y="267.5" width="9.74" height="31.5" fill="#d0d0d0" stroke="#222" stroke-width="1"/>
<rect x="333.67" y="267.5" width="9.74" height="31.5" fill="#ffffff" stroke="#222" stroke-width="1"/>
<rect x="343.41" y="267.5" width="9.74" height="31.5" fill="#ffffff" stroke="#222" stroke-width="1"/>
<rect x="353.15" y="267.5" width="9.74" height="31.5" fill="#ffffff" stroke="#222" stroke-width="1"/>
<rect x="362.89" y="267.5" width="9.74" height="31.5" fill="#ffffff" stroke="#222" stroke-width="1"/>
<rect x="372.63" y="267.5" width="9.74" height="31.5" fill="#c8c8c8" stroke="#222" stroke-width="1"/>
<rect x="382.38" y="267.5" width="9.74" height="31.5" fill="#282828" stroke="#222" stroke-width="1"/>
<rect x="392.12" y="267.5" width="9.74" height="31.5" fill="#8a8a8a" stroke="#222" stroke-width="1"/>
<rect x="401.86" y="267.5" width="9.74" height="31.5" fill="#c0c0c0" stroke="#222" stroke-width="1"/>
<rect x="411.6" y="267.5" width="9.74" height="31.5" fill="#050505" stroke="#222" stroke-width="1"/>
<rect x="421.34" y="267.5" width="9.74" height="31.5" fill="#a8a8a8" stroke="#222" stroke-width="1"/>
<rect x="431.08" y="267.5" width="9.74" height="31.5" fill="#c0c0c0" stroke="#222" stroke-width="1"/>
<rect x="440.82" y="267.5" width="9.74" height="31.5" fill="#ffffff" stroke="#222" stroke-width="1"/>
<rect x="450.57" y="267.5" width="9.74" height="31.5" fill="#dcdcdc" stroke="#222" stroke-width="1"/>
<rect x="460.31" y="267.5" width="9.74" height="31.5" fill="#ffffff" stroke="#222" stroke-width="1"/>
<rect x="470.05" y="267.5" width="9.74" height="31.5" fill="#ffffff" stroke="#222" stroke-width="1"/>
<rect x="479.79" y="267.5" width="9.74" height="31.5" fill="#9a9a9a" stroke="#222" stroke-width="1"/>
<rect x="489.53" y="267.5" width="9.74" height="31.5" fill="#ffffff" stroke="#222" stroke-width="1"/>
<rect x="499.27" y="267.5" width="9.74" height="31.5" fill="#a0a0a0" stroke="#222" stroke-width="1"/>
<rect x="509.02" y="267.5" width="9.74" height="31.5" fill="#e4e4e4" stroke="#222" stroke-width="1"/>
<rect x="518.76" y="267.5" width="9.74" height="31.5" fill="#ececec" stroke="#222" stroke-width="1"/>
<rect x="294.7" y="299" width="9.74" height="31.5" fill="#505050" stroke="#222" stroke-width="1"/>
<rect x="304.44" y="299" width="9.74" height="31.5" fill="#e8e8e8" stroke="#222" stroke-width="1"/>
<rect x="314.18" y="299" width="9.74" height="31.5" fill="#ececec" stroke="#222" stroke-width="1"/>
<rect x="323.93" y="299" width="9.74" height="31.5" fill="#c8c8c8" stroke="#222" stroke-width="1"/>
<rect x="333.67" y="299" width="9.74" height="31.5" fill="#e8e8e8" stroke="#222" stroke-width="1"/>
<rect x="343.41" y="299" width="9.74" height="31.5" fill="#eeeeee" stroke="#222" stroke-width="1"/>
<rect x="353.15" y="299" width="9.74" height="31.5" fill="#ececec" stroke="#222" stroke-width="1"/>
<rect x="362.89" y="299" width="9.74" height="31.5" fill="#f2f2f2" stroke="#222" stroke-width="1"/>
<rect x="372.63" y="299" width="9.74" height="31.5" fill="#d8d8d8" stroke="#222" stroke-width="1"/>
<rect x="382.38" y="299" width="9.74" height="31.5" fill="#686868" stroke="#222" stroke-width="1"/>
<rect x="392.12" y="299" width="9.74" height="31.5" fill="#c4c4c4" stroke="#222" stroke-width="1"/>
<rect x="401.86" y="299" width="9.74" height="31.5" fill="#c8c8c8" stroke="#222" stroke-width="1"/>
<rect x="411.6" y="299" width="9.74" height="31.5" fill="#4a4a4a" stroke="#222" stroke-width="1"/>
<rect x="421.34" y="299" width="9.74" height="31.5" fill="#a0a0a0" stroke="#222" stroke-width="1"/>
<rect x="431.08" y="299" width="9.74" height="31.5" fill="#a8a8a8" stroke="#222" stroke-width="1"/>
<rect x="440.82" y="299" width="9.74" height="31.5" fill="#eeeeee" stroke="#222" stroke-width="1"/>
<rect x="450.57" y="299" width="9.74" height="31.5" fill="#dcdcdc" stroke="#222" stroke-width="1"/>
<rect x="460.31" y="299" width="9.74" height="31.5" fill="#f0f0f0" stroke="#222" stroke-width="1"/>
<rect x="470.05" y="299" width="9.74" height="31.5" fill="#f0f0f0" stroke="#222" stroke-width="1"/>
<rect x="479.79" y="299" width="9.74" height="31.5" fill="#d4d4d4" stroke="#222" stroke-width="1"/>
<rect x="489.53" y="299" width="9.74" height="31.5" fill="#ececec" stroke="#222" stroke-width="1"/>
<rect x="499.27" y="299" width="9.74" height="31.5" fill="#606060" stroke="#222" stroke-width="1"/>
<rect x="509.02" y="299" width="9.74" height="31.5" fill="#c8c8c8" stroke="#222" stroke-width="1"/>
<rect x="518.76" y="299" width="9.74" height="31.5" fill="#c8c8c8" stroke="#222" stroke-width="1"/>
<rect x="294.7" y="330.5" width="9.74" height="31.5" fill="#c6c6c6" stroke="#222" stroke-width="1"/>
<rect x="304.44" y="330.5" width="9.74" height="31.5" fill="#c6c6c6" stroke="#222" stroke-width="1"/>
<rect x="314.18" y="330.5" width="9.74" height="31.5" fill="#c6c6c6" stroke="#222" stroke-width="1"/>
<rect x="323.93" y="330.5" width="9.74" height="31.5" fill="#c6c6c6" stroke="#222" stroke-width="1"/>
<rect x="333.67" y="330.5" width="9.74" height="31.5" fill="#c6c6c6" stroke="#222" stroke-width="1"/>
<rect x="343.41" y="330.5" width="9.74" height="31.5" fill="#c6c6c6" stroke="#222" stroke-width="1"/>
<rect x="353.15" y="330.5" width="9.74" height="31.5" fill="#c6c6c6" stroke="#222" stroke-width="1"/>
<rect x="362.89" y="330.5" width="9.74" height="31.5" fill="#c6c6c6" stroke="#222" stroke-width="1"/>
<rect x="372.63" y="330.5" width="9.74" height="31.5" fill="#c6c6c6" stroke="#222" stroke-width="1"/>
<rect x="382.38" y="330.5" width="9.74" height="31.5" fill="#c6c6c6" stroke="#222" stroke-width="1"/>
<rect x="392.12" y="330.5" width="9.74" height="31.5" fill="#c6c6c6" stroke="#222" stroke-width="1"/>
<rect x="401.86" y="330.5" width="9.74" height="31.5" fill="#c6c6c6" stroke="#222" stroke-width="1"/>
<rect x="411.6" y="330.5" width="9.74" height="31.5" fill="#c6c6c6" stroke="#222" stroke-width="1"/>
<rect x="421.34" y="330.5" width="9.74" height="31.5" fill="#c6c6c6" stroke="#222" stroke-width="1"/>
<rect x="431.08" y="330.5" width="9.74" height="31.5" fill="#c6c6c6" stroke="#222" stroke-width="1"/>
<rect x="440.82" y="330.5" width="9.74" height="31.5" fill="#c6c6c6" stroke="#222" stroke-width="1"/>
<rect x="450.57" y="330.5" width="9.74" height="31.5" fill="#c6c6c6" stroke="#222" stroke-width="1"/>
<rect x="460.31" y="330.5" width="9.74" height="31.5" fill="#c6c6c6" stroke="#222" stroke-width="1"/>
<rect x="470.05" y="330.5" width="9.74" height="31.5" fill="#c6c6c6" stroke="#222" stroke-width="1"/>
<rect x="479.79" y="330.5" width="9.74" height="31.5" fill="#c6c6c6" stroke="#222" stroke-width="1"/>
<rect x="489.53" y="330.5" width="9.74" height="31.5" fill="#c6c6c6" stroke="#222" stroke-width="1"/>
<rect x="499.27" y="330.5" width="9.74" height="31.5" fill="#c6c6c6" stroke="#222" stroke-width="1"/>
<rect x="509.02" y="330.5" width="9.74" height="31.5" fill="#c6c6c6" stroke="#222" stroke-width="1"/>
<rect x="518.76" y="330.5" width="9.74" height="31.5" fill="#c6c6c6" stroke="#222" stroke-width="1"/>
<text x="0" y="0" text-anchor="end" font-size="14.7" fill="#111" font-family="'Liberation Serif', serif" transform="translate(290.4,287.5) scale(0.87,1)" >BMA</text>
<text x="0" y="0" text-anchor="end" font-size="14.7" fill="#111" font-family="'Liberation Serif', serif" transform="translate(290.4,319.1) scale(0.87,1)" >REA</text>
<text x="0" y="0" text-anchor="end" font-size="14.7" fill="#111" font-family="'Liberation Serif', serif" transform="translate(290.4,351.1) scale(0.87,1)" >SMA</text>
<text x="0" y="0" text-anchor="middle" font-size="14.2" fill="#111" font-family="'Liberation Serif', serif" transform="translate(309.31,377.9) scale(0.89,1)" >2</text>
<text x="0" y="0" text-anchor="middle" font-size="14.2" fill="#111" font-family="'Liberation Serif', serif" transform="translate(328.8,377.9) scale(0.89,1)" >4</text>
<text x="0" y="0" text-anchor="middle" font-size="14.2" fill="#111" font-family="'Liberation Serif', serif" transform="translate(348.28,377.9) scale(0.89,1)" >6</text>
<text x="0" y="0" text-anchor="middle" font-size="14.2" fill="#111" font-family="'Liberation Serif', serif" transform="translate(367.76,377.9) scale(0.89,1)" >8</text>
<text x="0" y="0" text-anchor="middle" font-size="14.2" fill="#111" font-family="'Liberation Serif', serif" transform="translate(387.25,377.9) scale(0.89,1)" >10</text>
<text x="0" y="0" text-anchor="middle" font-size="14.2" fill="#111" font-family="'Liberation Serif', serif" transform="translate(406.73,377.9) scale(0.89,1)" >12</text>
<text x="0" y="0" text-anchor="middle" font-size="14.2" fill="#111" font-family="'Liberation Serif', serif" transform="translate(426.21,377.9) scale(0.89,1)" >14</text>
<text x="0" y="0" text-anchor="middle" font-size="14.2" fill="#111" font-family="'Liberation Serif', serif" transform="translate(445.7,377.9) scale(0.89,1)" >16</text>
<text x="0" y="0" text-anchor="middle" font-size="14.2" fill="#111" font-family="'Liberation Serif', serif" transform="translate(465.18,377.9) scale(0.89,1)" >18</text>
<text x="0" y="0" text-anchor="middle" font-size="14.2" fill="#111" font-family="'Liberation Serif', serif" transform="translate(484.66,377.9) scale(0.89,1)" >20</text>
<text x="0" y="0" text-anchor="middle" font-size="14.2" fill="#111" font-family="'Liberation Serif', serif" transform="translate(504.15,377.9) scale(0.89,1)" >22</text>
<text x="0" y="0" text-anchor="middle" font-size="14.2" fill="#111" font-family="'Liberation Serif', serif" transform="translate(523.63,377.9) scale(0.89,1)" >24</text>
<text x="0" y="0" text-anchor="middle" font-size="13.7" fill="#111" font-family="'Liberation Serif', serif" transform="translate(409.7,395.2)" >model</text>
<text x="0" y="0" text-anchor="middle" font-size="14.5" fill="#111" font-family="'Liberation Serif', serif" transform="translate(507.3,397.4) scale(0.92,1)" >(d)</text>
<defs><linearGradient id="cb" x1="0" x2="1" y1="0" y2="0"><stop offset="0" stop-color="#fff"/><stop offset="1" stop-color="#000"/></linearGradient></defs>
<rect x="294.6" y="405.5" width="235.1" height="18" fill="url(#cb)" stroke="#222" stroke-width="1"/>
<line x1="359.91" y1="405.5" x2="359.91" y2="423.5" stroke="#111" stroke-width="1" stroke-dasharray="1.3,2.6"/>
<line x1="425.21" y1="405.5" x2="425.21" y2="423.5" stroke="#111" stroke-width="1" stroke-dasharray="1.3,2.6"/>
<line x1="490.52" y1="405.5" x2="490.52" y2="423.5" stroke="#111" stroke-width="1" stroke-dasharray="1.3,2.6"/>
<text x="0" y="0" text-anchor="middle" font-size="14.8" fill="#111" font-family="'Liberation Serif', serif" transform="translate(294.6,439.5) scale(0.9,1)" >0</text>
<text x="0" y="0" text-anchor="middle" font-size="14.8" fill="#111" font-family="'Liberation Serif', serif" transform="translate(359.91,439.5) scale(0.9,1)" >0.05</text>
<text x="0" y="0" text-anchor="middle" font-size="14.8" fill="#111" font-family="'Liberation Serif', serif" transform="translate(425.21,439.5) scale(0.9,1)" >0.1</text>
<text x="0" y="0" text-anchor="middle" font-size="14.8" fill="#111" font-family="'Liberation Serif', serif" transform="translate(490.52,439.5) scale(0.9,1)" >0.15</text>
</svg></body></html>
